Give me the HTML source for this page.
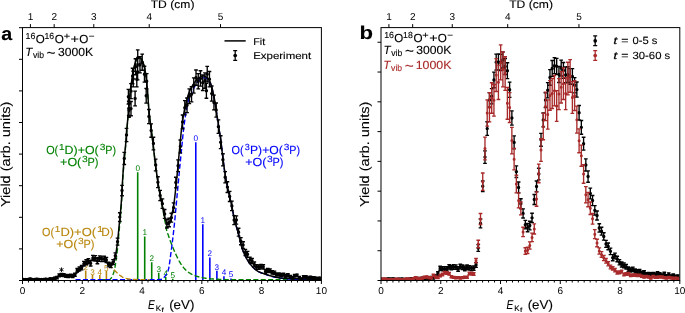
<!DOCTYPE html>
<html><head><meta charset="utf-8"><style>html,body{margin:0;padding:0;background:#fff;overflow:hidden}svg{display:block;will-change:transform;text-rendering:geometricPrecision}</style></head>
<body><svg width="685" height="313" viewBox="0 0 685 313">
<rect width="685" height="313" fill="#fff"/>
<g transform="translate(1.22 39.7) scale(1.06 1)" fill="#000" stroke="#000" stroke-width="0.12" ><text x="0" y="0" font-size="18.6" font-weight="bold" font-family="Liberation Sans, sans-serif" xml:space="preserve">a</text></g>
<g transform="translate(359.53 39.3) scale(1.19 1)" fill="#000" stroke="#000" stroke-width="0.12" ><text x="0" y="0" font-size="18.6" font-weight="bold" font-family="Liberation Sans, sans-serif" xml:space="preserve">b</text></g>
<g transform="translate(150.73 8.3) scale(1.1 1)" fill="#000" stroke="#000" stroke-width="0.12" ><text x="0" y="0" font-size="11" font-family="Liberation Sans, sans-serif" xml:space="preserve">TD (cm)</text></g>
<g transform="translate(10.1 0) rotate(-90)"><g transform="translate(-207.12 0) scale(1.12 1)" fill="#000" stroke="#000" stroke-width="0.12" ><text x="0" y="0" font-size="13" font-family="Liberation Sans, sans-serif" xml:space="preserve">Yield (arb. units)</text></g></g>
<g transform="translate(148.09 309.4) scale(0.8 1)" fill="#000" stroke="#000" stroke-width="0.12" ><text x="0" y="0" font-size="12.6" font-style="italic" font-family="Liberation Sans, sans-serif" xml:space="preserve">E</text></g>
<g transform="translate(155.74 310.6) scale(1.01 1)" fill="#000" stroke="#000" stroke-width="0.12" ><text x="0" y="0" font-size="7.9" font-family="Liberation Sans, sans-serif" xml:space="preserve">K</text></g>
<g transform="translate(161.48 312.2) scale(1.38 1)" fill="#000" stroke="#000" stroke-width="0.12" ><text x="0" y="0" font-size="6" font-family="Liberation Sans, sans-serif" xml:space="preserve">f</text></g>
<g transform="translate(169.17 309.4) scale(1.06 1)" fill="#000" stroke="#000" stroke-width="0.12" ><text x="0" y="0" font-size="12.6" font-family="Liberation Sans, sans-serif" xml:space="preserve">(eV)</text></g>
<g transform="translate(509.23 8.3) scale(1.1 1)" fill="#000" stroke="#000" stroke-width="0.12" ><text x="0" y="0" font-size="11" font-family="Liberation Sans, sans-serif" xml:space="preserve">TD (cm)</text></g>
<g transform="translate(368.6 0) rotate(-90)"><g transform="translate(-207.12 0) scale(1.12 1)" fill="#000" stroke="#000" stroke-width="0.12" ><text x="0" y="0" font-size="13" font-family="Liberation Sans, sans-serif" xml:space="preserve">Yield (arb. units)</text></g></g>
<g transform="translate(506.59 309.4) scale(0.8 1)" fill="#000" stroke="#000" stroke-width="0.12" ><text x="0" y="0" font-size="12.6" font-style="italic" font-family="Liberation Sans, sans-serif" xml:space="preserve">E</text></g>
<g transform="translate(514.24 310.6) scale(1.01 1)" fill="#000" stroke="#000" stroke-width="0.12" ><text x="0" y="0" font-size="7.9" font-family="Liberation Sans, sans-serif" xml:space="preserve">K</text></g>
<g transform="translate(519.98 312.2) scale(1.38 1)" fill="#000" stroke="#000" stroke-width="0.12" ><text x="0" y="0" font-size="6" font-family="Liberation Sans, sans-serif" xml:space="preserve">f</text></g>
<g transform="translate(527.67 309.4) scale(1.06 1)" fill="#000" stroke="#000" stroke-width="0.12" ><text x="0" y="0" font-size="12.6" font-family="Liberation Sans, sans-serif" xml:space="preserve">(eV)</text></g>
<g transform="translate(25.53 38.8) scale(1 1)" fill="#000" stroke="#000" stroke-width="0.12" ><text x="0" y="0" font-size="8.8" font-family="Liberation Sans, sans-serif" xml:space="preserve">16</text></g>
<g transform="translate(35.7 43.1) scale(0.98 1)" fill="#000" stroke="#000" stroke-width="0.12" ><text x="0" y="0" font-size="11.8" font-family="Liberation Sans, sans-serif" xml:space="preserve">O</text></g>
<g transform="translate(44.44 38.8) scale(0.99 1)" fill="#000" stroke="#000" stroke-width="0.12" ><text x="0" y="0" font-size="8.8" font-family="Liberation Sans, sans-serif" xml:space="preserve">16</text></g>
<g transform="translate(54.85 43.1) scale(0.99 1)" fill="#000" stroke="#000" stroke-width="0.12" ><text x="0" y="0" font-size="11.8" font-family="Liberation Sans, sans-serif" xml:space="preserve">O</text></g>
<g transform="translate(63.72 38.8) scale(1.24 1)" fill="#000" stroke="#000" stroke-width="0.12" ><text x="0" y="0" font-size="8.8" font-family="Liberation Sans, sans-serif" xml:space="preserve">+</text></g>
<g transform="translate(70.6 43.1) scale(1.22 1)" fill="#000" stroke="#000" stroke-width="0.12" ><text x="0" y="0" font-size="11.8" font-family="Liberation Sans, sans-serif" xml:space="preserve">+</text></g>
<g transform="translate(79.24 43.1) scale(0.99 1)" fill="#000" stroke="#000" stroke-width="0.12" ><text x="0" y="0" font-size="11.8" font-family="Liberation Sans, sans-serif" xml:space="preserve">O</text></g>
<g transform="translate(88.76 38.8) scale(1.12 1)" fill="#000" stroke="#000" stroke-width="0.12" ><text x="0" y="0" font-size="8.8" font-family="Liberation Sans, sans-serif" xml:space="preserve">−</text></g>
<g transform="translate(384.13 38) scale(1 1)" fill="#000" stroke="#000" stroke-width="0.12" ><text x="0" y="0" font-size="8.8" font-family="Liberation Sans, sans-serif" xml:space="preserve">16</text></g>
<g transform="translate(394.3 42.3) scale(0.98 1)" fill="#000" stroke="#000" stroke-width="0.12" ><text x="0" y="0" font-size="11.8" font-family="Liberation Sans, sans-serif" xml:space="preserve">O</text></g>
<g transform="translate(403.04 38) scale(0.99 1)" fill="#000" stroke="#000" stroke-width="0.12" ><text x="0" y="0" font-size="8.8" font-family="Liberation Sans, sans-serif" xml:space="preserve">18</text></g>
<g transform="translate(413.45 42.3) scale(0.99 1)" fill="#000" stroke="#000" stroke-width="0.12" ><text x="0" y="0" font-size="11.8" font-family="Liberation Sans, sans-serif" xml:space="preserve">O</text></g>
<g transform="translate(422.32 38) scale(1.24 1)" fill="#000" stroke="#000" stroke-width="0.12" ><text x="0" y="0" font-size="8.8" font-family="Liberation Sans, sans-serif" xml:space="preserve">+</text></g>
<g transform="translate(429.2 42.3) scale(1.22 1)" fill="#000" stroke="#000" stroke-width="0.12" ><text x="0" y="0" font-size="11.8" font-family="Liberation Sans, sans-serif" xml:space="preserve">+</text></g>
<g transform="translate(437.84 42.3) scale(0.99 1)" fill="#000" stroke="#000" stroke-width="0.12" ><text x="0" y="0" font-size="11.8" font-family="Liberation Sans, sans-serif" xml:space="preserve">O</text></g>
<g transform="translate(447.36 38) scale(1.12 1)" fill="#000" stroke="#000" stroke-width="0.12" ><text x="0" y="0" font-size="8.8" font-family="Liberation Sans, sans-serif" xml:space="preserve">−</text></g>
<g transform="translate(25.16 55.9) scale(0.98 1)" fill="#000" stroke="#000" stroke-width="0.12" ><text x="0" y="0" font-size="11.8" font-style="italic" font-family="Liberation Sans, sans-serif" xml:space="preserve">T</text></g>
<g transform="translate(32.97 57.9) scale(0.98 1)" fill="#000" stroke="#000" stroke-width="0.12" ><text x="0" y="0" font-size="8.8" font-family="Liberation Sans, sans-serif" xml:space="preserve">vib</text></g>
<g transform="translate(46.61 57.6) scale(0.99 1)" fill="#000" stroke="#000" stroke-width="0.12" ><text x="0" y="0" font-size="15.5" font-family="Liberation Sans, sans-serif" xml:space="preserve">~</text></g>
<g transform="translate(58.04 55.9) scale(1.03 1)" fill="#000" stroke="#000" stroke-width="0.12" ><text x="0" y="0" font-size="11.8" font-family="Liberation Sans, sans-serif" xml:space="preserve">3000K</text></g>
<g transform="translate(383.46 53.9) scale(0.98 1)" fill="#000" stroke="#000" stroke-width="0.12" ><text x="0" y="0" font-size="11.8" font-style="italic" font-family="Liberation Sans, sans-serif" xml:space="preserve">T</text></g>
<g transform="translate(391.27 55.9) scale(0.98 1)" fill="#000" stroke="#000" stroke-width="0.12" ><text x="0" y="0" font-size="8.8" font-family="Liberation Sans, sans-serif" xml:space="preserve">vib</text></g>
<g transform="translate(404.91 55.7) scale(0.99 1)" fill="#000" stroke="#000" stroke-width="0.12" ><text x="0" y="0" font-size="15.5" font-family="Liberation Sans, sans-serif" xml:space="preserve">~</text></g>
<g transform="translate(416.34 53.9) scale(1.03 1)" fill="#000" stroke="#000" stroke-width="0.12" ><text x="0" y="0" font-size="11.8" font-family="Liberation Sans, sans-serif" xml:space="preserve">3000K</text></g>
<g transform="translate(383.26 69) scale(0.98 1)" fill="#a82a2a" stroke="#a82a2a" stroke-width="0.12" ><text x="0" y="0" font-size="11.8" font-style="italic" font-family="Liberation Sans, sans-serif" xml:space="preserve">T</text></g>
<g transform="translate(391.07 71) scale(0.98 1)" fill="#a82a2a" stroke="#a82a2a" stroke-width="0.12" ><text x="0" y="0" font-size="8.8" font-family="Liberation Sans, sans-serif" xml:space="preserve">vib</text></g>
<g transform="translate(404.71 70.6) scale(0.99 1)" fill="#a82a2a" stroke="#a82a2a" stroke-width="0.12" ><text x="0" y="0" font-size="15.5" font-family="Liberation Sans, sans-serif" xml:space="preserve">~</text></g>
<g transform="translate(415.66 69) scale(1.05 1)" fill="#a82a2a" stroke="#a82a2a" stroke-width="0.12" ><text x="0" y="0" font-size="11.8" font-family="Liberation Sans, sans-serif" xml:space="preserve">1000K</text></g>
<path d="M224.5 40.9H245.7" stroke="#000" stroke-width="1.5"/>
<g transform="translate(253.22 44.5) scale(1.1 1)" fill="#000" stroke="#000" stroke-width="0.12" ><text x="0" y="0" font-size="9.8" font-family="Liberation Sans, sans-serif" xml:space="preserve">Fit</text></g>
<g transform="translate(253.16 59.2) scale(1.17 1)" fill="#000" stroke="#000" stroke-width="0.12" ><text x="0" y="0" font-size="9.8" font-family="Liberation Sans, sans-serif" xml:space="preserve">Experiment</text></g>
<path d="M235.2 50.6V60.4M233.2 50.6h4M233.2 60.4h4" stroke="#000" stroke-width="1.25"/><circle cx="235.2" cy="55.5" r="1.85" fill="#000"/>
<path d="M595.2 35.9V45.7M593.2 35.9h4M593.2 45.7h4" stroke="#000" stroke-width="1.25"/><circle cx="595.2" cy="40.8" r="1.85" fill="#000"/>
<path d="M595.2 50.6V60.4M593.2 50.6h4M593.2 60.4h4" stroke="#a82a2a" stroke-width="1.25"/><circle cx="595.2" cy="55.5" r="1.85" fill="#a82a2a"/>
<g transform="translate(613.22 43.6) scale(1.44 1)" fill="#000" stroke="#000" stroke-width="0.12" ><text x="0" y="0" font-size="10.4" font-style="italic" font-family="Liberation Sans, sans-serif" xml:space="preserve">t</text></g>
<g transform="translate(621.2 43.6) scale(1.19 1)" fill="#000" stroke="#000" stroke-width="0.12" ><text x="0" y="0" font-size="10.4" font-family="Liberation Sans, sans-serif" xml:space="preserve">=</text></g>
<g transform="translate(632.46 43.6) scale(1.08 1)" fill="#000" stroke="#000" stroke-width="0.12" ><text x="0" y="0" font-size="10.4" font-family="Liberation Sans, sans-serif" xml:space="preserve">0-5 s</text></g>
<g transform="translate(613.22 58.5) scale(1.44 1)" fill="#000" stroke="#000" stroke-width="0.12" ><text x="0" y="0" font-size="10.4" font-style="italic" font-family="Liberation Sans, sans-serif" xml:space="preserve">t</text></g>
<g transform="translate(621.2 58.5) scale(1.19 1)" fill="#000" stroke="#000" stroke-width="0.12" ><text x="0" y="0" font-size="10.4" font-family="Liberation Sans, sans-serif" xml:space="preserve">=</text></g>
<g transform="translate(632.47 58.5) scale(1.09 1)" fill="#000" stroke="#000" stroke-width="0.12" ><text x="0" y="0" font-size="10.4" font-family="Liberation Sans, sans-serif" xml:space="preserve">30-60 s</text></g>
<g transform="translate(46.18 154.2) scale(0.92 1)" fill="#008000" stroke="#008000" stroke-width="0.12" ><text x="0" y="0" font-size="11.8" font-family="Liberation Sans, sans-serif" xml:space="preserve">O(</text></g>
<g transform="translate(58.94 150) scale(1.13 1)" fill="#008000" stroke="#008000" stroke-width="0.12" ><text x="0" y="0" font-size="8.8" font-family="Liberation Sans, sans-serif" xml:space="preserve">1</text></g>
<g transform="translate(99.81 150) scale(1.15 1)" fill="#008000" stroke="#008000" stroke-width="0.12" ><text x="0" y="0" font-size="8.8" font-family="Liberation Sans, sans-serif" xml:space="preserve">3</text></g>
<g transform="translate(105.22 154.2) scale(0.91 1)" fill="#008000" stroke="#008000" stroke-width="0.12" ><text x="0" y="0" font-size="11.8" font-family="Liberation Sans, sans-serif" xml:space="preserve">P)</text></g>
<g transform="translate(64.58 154.2) scale(1.05 1)" fill="#008000" stroke="#008000" stroke-width="0.12" ><text x="0" y="0" font-size="11.8" font-family="Liberation Sans, sans-serif" xml:space="preserve">D)+O(</text></g>
<g transform="translate(60.09 166.1) scale(1.06 1)" fill="#008000" stroke="#008000" stroke-width="0.12" ><text x="0" y="0" font-size="11.8" font-family="Liberation Sans, sans-serif" xml:space="preserve">+O(</text></g>
<g transform="translate(81.91 161.9) scale(1.17 1)" fill="#008000" stroke="#008000" stroke-width="0.12" ><text x="0" y="0" font-size="8.8" font-family="Liberation Sans, sans-serif" xml:space="preserve">3</text></g>
<g transform="translate(87.4 166.1) scale(0.93 1)" fill="#008000" stroke="#008000" stroke-width="0.12" ><text x="0" y="0" font-size="11.8" font-family="Liberation Sans, sans-serif" xml:space="preserve">P)</text></g>
<g transform="translate(231.58 153.9) scale(0.92 1)" fill="#0000ff" stroke="#0000ff" stroke-width="0.12" ><text x="0" y="0" font-size="11.8" font-family="Liberation Sans, sans-serif" xml:space="preserve">O(</text></g>
<g transform="translate(244.75 149.7) scale(1.03 1)" fill="#0000ff" stroke="#0000ff" stroke-width="0.12" ><text x="0" y="0" font-size="8.8" font-family="Liberation Sans, sans-serif" xml:space="preserve">3</text></g>
<g transform="translate(283.81 149.7) scale(1.15 1)" fill="#0000ff" stroke="#0000ff" stroke-width="0.12" ><text x="0" y="0" font-size="8.8" font-family="Liberation Sans, sans-serif" xml:space="preserve">3</text></g>
<g transform="translate(289.22 153.9) scale(0.91 1)" fill="#0000ff" stroke="#0000ff" stroke-width="0.12" ><text x="0" y="0" font-size="11.8" font-family="Liberation Sans, sans-serif" xml:space="preserve">P)</text></g>
<g transform="translate(250.01 153.9) scale(1.03 1)" fill="#0000ff" stroke="#0000ff" stroke-width="0.12" ><text x="0" y="0" font-size="11.8" font-family="Liberation Sans, sans-serif" xml:space="preserve">P)+O(</text></g>
<g transform="translate(245.19 166) scale(1.06 1)" fill="#0000ff" stroke="#0000ff" stroke-width="0.12" ><text x="0" y="0" font-size="11.8" font-family="Liberation Sans, sans-serif" xml:space="preserve">+O(</text></g>
<g transform="translate(267.01 161.8) scale(1.17 1)" fill="#0000ff" stroke="#0000ff" stroke-width="0.12" ><text x="0" y="0" font-size="8.8" font-family="Liberation Sans, sans-serif" xml:space="preserve">3</text></g>
<g transform="translate(272.5 166) scale(0.93 1)" fill="#0000ff" stroke="#0000ff" stroke-width="0.12" ><text x="0" y="0" font-size="11.8" font-family="Liberation Sans, sans-serif" xml:space="preserve">P)</text></g>
<g transform="translate(42.08 235.9) scale(0.92 1)" fill="#b8860b" stroke="#b8860b" stroke-width="0.12" ><text x="0" y="0" font-size="11.8" font-family="Liberation Sans, sans-serif" xml:space="preserve">O(</text></g>
<g transform="translate(54.84 231.7) scale(1.13 1)" fill="#b8860b" stroke="#b8860b" stroke-width="0.12" ><text x="0" y="0" font-size="8.8" font-family="Liberation Sans, sans-serif" xml:space="preserve">1</text></g>
<g transform="translate(96.95 231.7) scale(1.27 1)" fill="#b8860b" stroke="#b8860b" stroke-width="0.12" ><text x="0" y="0" font-size="8.8" font-family="Liberation Sans, sans-serif" xml:space="preserve">1</text></g>
<g transform="translate(101.13 235.9) scale(1 1)" fill="#b8860b" stroke="#b8860b" stroke-width="0.12" ><text x="0" y="0" font-size="11.8" font-family="Liberation Sans, sans-serif" xml:space="preserve">D)</text></g>
<g transform="translate(60.43 235.9) scale(1.1 1)" fill="#b8860b" stroke="#b8860b" stroke-width="0.12" ><text x="0" y="0" font-size="11.8" font-family="Liberation Sans, sans-serif" xml:space="preserve">D)+O(</text></g>
<g transform="translate(56.19 248.1) scale(1.06 1)" fill="#b8860b" stroke="#b8860b" stroke-width="0.12" ><text x="0" y="0" font-size="11.8" font-family="Liberation Sans, sans-serif" xml:space="preserve">+O(</text></g>
<g transform="translate(78.01 243.9) scale(1.17 1)" fill="#b8860b" stroke="#b8860b" stroke-width="0.12" ><text x="0" y="0" font-size="8.8" font-family="Liberation Sans, sans-serif" xml:space="preserve">3</text></g>
<g transform="translate(83.5 248.1) scale(0.93 1)" fill="#b8860b" stroke="#b8860b" stroke-width="0.12" ><text x="0" y="0" font-size="11.8" font-family="Liberation Sans, sans-serif" xml:space="preserve">P)</text></g>
<path d="M61.5 267.4V272M59.5 268.5L63.5 270.9M59.5 270.9L63.5 268.5" stroke="#000" stroke-width="0.9"/>
<clipPath id="ca"><rect x="22.5" y="27.6" width="298.9" height="252.9"/></clipPath><clipPath id="cb"><rect x="381" y="27.6" width="298.8" height="252.9"/></clipPath>
<g clip-path="url(#ca)">
<path d="M137.7 280.5V172.3M144.71 280.5V236.38M151.71 280.5V262.33M158.72 280.5V272.85M165.73 280.5V277.1M172.74 280.5V278.83" stroke="#008000" stroke-width="1.6"/>
<path d="M195.77 280.5V142.3M202.81 280.5V224.23M209.85 280.5V257.41M216.89 280.5V270.85M223.93 280.5V276.3M230.97 280.5V278.5" stroke="#0000ff" stroke-width="1.6"/>
<path d="M85.7 280.5V270.5M92.5 280.5V275M99.8 280.5V275M106.4 280.5V271" stroke="#b8860b" stroke-width="1.6"/>
<text x="137.7" y="171.2" font-size="8.2" text-anchor="middle" fill="#008000" font-family="Liberation Sans, sans-serif">0</text>
<text x="144.71" y="235.28" font-size="8.2" text-anchor="middle" fill="#008000" font-family="Liberation Sans, sans-serif">1</text>
<text x="151.71" y="261.23" font-size="8.2" text-anchor="middle" fill="#008000" font-family="Liberation Sans, sans-serif">2</text>
<text x="158.72" y="271.75" font-size="8.2" text-anchor="middle" fill="#008000" font-family="Liberation Sans, sans-serif">3</text>
<text x="165.73" y="276" font-size="8.2" text-anchor="middle" fill="#008000" font-family="Liberation Sans, sans-serif">4</text>
<text x="172.74" y="277.73" font-size="8.2" text-anchor="middle" fill="#008000" font-family="Liberation Sans, sans-serif">5</text>
<text x="195.77" y="141.2" font-size="8.2" text-anchor="middle" fill="#0000ff" font-family="Liberation Sans, sans-serif">0</text>
<text x="202.81" y="223.13" font-size="8.2" text-anchor="middle" fill="#0000ff" font-family="Liberation Sans, sans-serif">1</text>
<text x="209.85" y="256.31" font-size="8.2" text-anchor="middle" fill="#0000ff" font-family="Liberation Sans, sans-serif">2</text>
<text x="216.89" y="269.75" font-size="8.2" text-anchor="middle" fill="#0000ff" font-family="Liberation Sans, sans-serif">3</text>
<text x="223.93" y="275.2" font-size="8.2" text-anchor="middle" fill="#0000ff" font-family="Liberation Sans, sans-serif">4</text>
<text x="230.97" y="277.4" font-size="8.2" text-anchor="middle" fill="#0000ff" font-family="Liberation Sans, sans-serif">5</text>
<text x="85.7" y="270.2" font-size="8.2" text-anchor="middle" fill="#b8860b" font-family="Liberation Sans, sans-serif">2</text>
<text x="92.5" y="274.7" font-size="8.2" text-anchor="middle" fill="#b8860b" font-family="Liberation Sans, sans-serif">3</text>
<text x="99.8" y="274.7" font-size="8.2" text-anchor="middle" fill="#b8860b" font-family="Liberation Sans, sans-serif">4</text>
<text x="106.4" y="270.7" font-size="8.2" text-anchor="middle" fill="#b8860b" font-family="Liberation Sans, sans-serif">5</text>
<path d="M100.5 279.75 101 279.75 101.5 279.75 102 279.75 102.5 279.75 103 279.75 103.5 279.75 104 279.75 104.5 279.75 105 279.75 105.5 279.75 106 279.75 106.5 279.75 107 279.75 107.5 279.75 108 279.75 108.5 279.75 109 279.75 109.5 279.72 110 279.29 110.5 278.8 111 278.25 111.5 277.58 112 276.71 112.5 275.68 113 274.57 113.5 273.27 114 271.64 114.5 269.73 115 267.19 115.5 264 116 260.62 116.5 256.99 117 253 117.5 248.58 118 243.41 118.5 237.74 119 232.12 119.5 226.88 120 221.69 120.5 216.12 121 209.87 121.5 202.86 122 194.5 122.5 184.18 123 175.91 123.5 169.01 124 162.85 124.5 157.45 125 152.58 125.5 147.48 126 141.46 126.5 134.9 127 128.7 127.5 122.83 128 117.12 128.5 111.42 129 105.54 129.5 99.75 130 94.36 130.5 89.68 131 85.84 131.5 82.52 132 79.5 132.5 76.59 133 73.6 133.5 70.62 134 67.87 134.5 65.6 135 63.69 135.5 61.98 136 60.6 136.5 59.65 137 58.91 137.5 58.3 138 57.91 138.5 57.83 139 57.87 139.5 57.95 140 58.09 140.5 58.26 141 58.68 141.5 59.47 142 60.46 142.5 61.52 143 62.61 143.5 63.84 144 65.3 144.5 67.08 145 69.48 145.5 73.05 146 77 146.5 80.85 147 85.08 147.5 90.3 148 97.43 148.5 104.96 149 111.04 149.5 115.79 150 119.98 150.5 123.87 151 127.71 151.5 131.72 152 135.71 152.5 139.67 153 143.74 153.5 147.99 154 152.34 154.5 156.67 155 160.84 155.5 164.79 156 168.62 156.5 172.35 157 175.95 157.5 179.41 158 182.76 158.5 185.98 159 189.02 159.5 191.77 160 194.28 160.5 196.79 161 199.42 161.5 202.09 162 204.78 162.5 207.57 163 210.4 163.5 213.2 164 216.01 164.5 218.91 165 221.7 165.5 224.19 166 226.25 166.5 229.82 167 231.37 167.5 232.89 168 234.38 168.5 235.85 169 237.29 169.5 238.7 170 240.09 170.5 241.45 171 242.78 171.5 244.09 172 245.37 172.5 246.62 173 247.84 173.5 249.04 174 250.21 174.5 251.36 175 252.48 175.5 253.58 176 254.66 176.5 255.73 177 256.8 177.5 257.84 178 258.85 178.5 259.83 179 260.76 179.5 261.64 180 262.47 180.5 263.28 181 264.06 181.5 264.83 182 265.56 182.5 266.26 183 266.93 183.5 267.56 184 268.15 184.5 268.69 185 269.21 185.5 269.71 186 270.19 186.5 270.65 187 271.09 187.5 271.51 188 271.91 188.5 272.28 189 272.64 189.5 272.97 190 273.27 190.5 273.56 191 273.83 191.5 274.1 192 274.36 192.5 274.6 193 274.84 193.5 275.06 194 275.28 194.5 275.49 195 275.68 195.5 275.87 196 276.04 196.5 276.21 197 276.36 197.5 276.51 198 276.65 198.5 276.79 199 276.93 199.5 277.06 200 277.18 200.5 277.3 201 277.42 201.5 277.53 202 277.63 202.5 277.73 203 277.83 203.5 277.92 204 278 204.5 278.08 205 278.15 205.5 278.22 206 278.29 206.5 278.36 207 278.42 207.5 278.48 208 278.54 208.5 278.6 209 278.66 209.5 278.71 210 278.76 210.5 278.81 211 278.86 211.5 278.91 212 278.95 212.5 278.99 213 279.03 213.5 279.06 214 279.09 214.5 279.12 215 279.15 215.5 279.18 216 279.2 216.5 279.23 217 279.25 217.5 279.28 218 279.3 218.5 279.32 219 279.35 219.5 279.37 220 279.39 220.5 279.41 221 279.43 221.5 279.45 222 279.47 222.5 279.49 223 279.5 223.5 279.52 224 279.53 224.5 279.55 225 279.56 225.5 279.58 226 279.59 226.5 279.6 227 279.61 227.5 279.62 228 279.63 228.5 279.64 229 279.64 229.5 279.65 230 279.65 230.5 279.65 231 279.66 231.5 279.66 232 279.66 232.5 279.67 233 279.67 233.5 279.67 234 279.68 234.5 279.68 235 279.68 235.5 279.68 236 279.69 236.5 279.69 237 279.69 237.5 279.69 238 279.7 238.5 279.7 239 279.7 239.5 279.7 240 279.71 240.5 279.71 241 279.71 241.5 279.71 242 279.71 242.5 279.72 243 279.72 243.5 279.72 244 279.72 244.5 279.72 245 279.73 245.5 279.73 246 279.73 246.5 279.73 247 279.73 247.5 279.73 248 279.73 248.5 279.74 249 279.74 249.5 279.74 250 279.74 250.5 279.74 251 279.74 251.5 279.74 252 279.74 252.5 279.74 253 279.74 253.5 279.75 254 279.75 254.5 279.75 255 279.75 255.5 279.75 256 279.75 256.5 279.75 257 279.75 257.5 279.75 258 279.75 258.5 279.75 259 279.75 259.5 279.75 260 279.75 260.5 279.75 261 279.75 261.5 279.75 262 279.75 262.5 279.75 263 279.75 263.5 279.75 264 279.75 264.5 279.75 265 279.75 265.5 279.75 266 279.75 266.5 279.75 267 279.75 267.5 279.75 268 279.75 268.5 279.75 269 279.75 269.5 279.75 270 279.75 270.5 279.75 271 279.75 271.5 279.75 272 279.75 272.5 279.75 273 279.75 273.5 279.75 274 279.75 274.5 279.75 275 279.75 275.5 279.75 276 279.75 276.5 279.75 277 279.75 277.5 279.75 278 279.75 278.5 279.75 279 279.75 279.5 279.75 280 279.75 280.5 279.75 281 279.75 281.5 279.75 282 279.75 282.5 279.75 283 279.75 283.5 279.75 284 279.75 284.5 279.75 285 279.75 285.5 279.75 286 279.75 286.5 279.75 287 279.75 287.5 279.75 288 279.75 288.5 279.75 289 279.75 289.5 279.75 290 279.75 290.5 279.75 291 279.75 291.5 279.75 292 279.75 292.5 279.75 293 279.75 293.5 279.75 294 279.75 294.5 279.75 295 279.75 295.5 279.75 296 279.75 296.5 279.75 297 279.75 297.5 279.75 298 279.75 298.5 279.75 299 279.75 299.5 279.75 300 279.75 300.5 279.75 301 279.75 301.5 279.75 302 279.75 302.5 279.75 303 279.75 303.5 279.75 304 279.75 304.5 279.75 305 279.75 305.5 279.75 306 279.75 306.5 279.75 307 279.75 307.5 279.75 308 279.75 308.5 279.75 309 279.75 309.5 279.75 310 279.75 310.5 279.75 311 279.75 311.5 279.75 312 279.75 312.5 279.75 313 279.75 313.5 279.75 314 279.75 314.5 279.75 315 279.75 315.5 279.75 316 279.75 316.5 279.75 317 279.75 317.5 279.75 318 279.75 318.5 279.75 319 279.75 319.5 279.75 320 279.75 320.5 279.75 321 279.75" fill="none" stroke="#008000" stroke-width="1.4" stroke-dasharray="5.1 2.3"/>
<path d="M75.5 279.75 76 279.75 76.5 279.75 77 279.75 77.5 279.75 78 279.75 78.5 279.75 79 279.75 79.5 279.75 80 279.75 80.5 279.75 81 279.75 81.5 279.75 82 279.75 82.5 279.75 83 279.75 83.5 279.75 84 279.75 84.5 279.75 85 279.75 85.5 279.75 86 279.75 86.5 279.75 87 279.75 87.5 279.75 88 279.75 88.5 279.75 89 279.75 89.5 279.75 90 279.75 90.5 279.75 91 279.75 91.5 279.75 92 279.75 92.5 279.75 93 279.75 93.5 279.75 94 279.75 94.5 279.75 95 279.75 95.5 279.75 96 279.75 96.5 279.75 97 279.75 97.5 279.75 98 279.75 98.5 279.75 99 279.75 99.5 279.75 100 279.75 100.5 279.75 101 279.75 101.5 279.75 102 279.75 102.5 279.75 103 279.75 103.5 279.75 104 279.75 104.5 279.75 105 279.75 105.5 279.75 106 279.75 106.5 279.75 107 279.75 107.5 279.75 108 279.75 108.5 279.75 109 279.75 109.5 279.75 110 279.75 110.5 279.75 111 279.75 111.5 279.75 112 279.75 112.5 279.75 113 279.75 113.5 279.75 114 279.75 114.5 279.75 115 279.75 115.5 279.75 116 279.75 116.5 279.75 117 279.75 117.5 279.75 118 279.75 118.5 279.75 119 279.75 119.5 279.75 120 279.75 120.5 279.75 121 279.75 121.5 279.75 122 279.75 122.5 279.75 123 279.75 123.5 279.75 124 279.75 124.5 279.75 125 279.75 125.5 279.75 126 279.75 126.5 279.75 127 279.75 127.5 279.75 128 279.75 128.5 279.75 129 279.75 129.5 279.75 130 279.75 130.5 279.75 131 279.75 131.5 279.75 132 279.75 132.5 279.75 133 279.75 133.5 279.75 134 279.75 134.5 279.75 135 279.75 135.5 279.75 136 279.75 136.5 279.75 137 279.75 137.5 279.75 138 279.75 138.5 279.75 139 279.75 139.5 279.75 140 279.75 140.5 279.75 141 279.75 141.5 279.75 142 279.75 142.5 279.75 143 279.75 143.5 279.75 144 279.75 144.5 279.75 145 279.75 145.5 279.75 146 279.75 146.5 279.75 147 279.75 147.5 279.75 148 279.75 148.5 279.75 149 279.75 149.5 279.75 150 279.75 150.5 279.75 151 279.75 151.5 279.75 152 279.74 152.5 279.74 153 279.74 153.5 279.73 154 279.72 154.5 279.72 155 279.71 155.5 279.7 156 279.69 156.5 279.68 157 279.67 157.5 279.66 158 279.65 158.5 279.63 159 279.61 159.5 279.57 160 279.52 160.5 279.46 161 279.39 161.5 279.31 162 279.2 162.5 278.95 163 278.56 163.5 278.07 164 277.5 164.5 276.89 165 276.26 165.5 275.63 166 274.93 166.5 274.15 167 273.25 167.5 272.19 168 270.94 168.5 269.31 169 266.78 169.5 263.54 170 259.88 170.5 256.08 171 252.42 171.5 248.74 172 244.9 172.5 240.89 173 236.73 173.5 232.4 174 227.91 174.5 223.15 175 218.08 175.5 212.79 176 207.35 176.5 201.87 177 196.4 177.5 191.05 178 185.82 178.5 180.6 179 175.39 179.5 170.19 180 165.02 180.5 159.87 181 154.77 181.5 149.71 182 144.61 182.5 139.43 183 134.47 183.5 130 184 125.96 184.5 122.11 185 118.48 185.5 115.1 186 111.99 186.5 109.2 187 106.63 187.5 104.21 188 101.96 188.5 99.91 189 98.08 189.5 98.23 190 96.79 190.5 95.44 191 94.17 191.5 92.96 192 91.82 192.5 90.74 193 89.7 193.5 88.72 194 87.77 194.5 86.85 195 85.95 195.5 85.07 196 84.24 196.5 83.47 197 82.76 197.5 82.14 198 81.61 198.5 81.13 199 80.66 199.5 80.21 200 79.78 200.5 79.37 201 79 201.5 78.67 202 78.38 202.5 78.14 203 77.96 203.5 77.84 204 77.79 204.5 77.83 205 77.94 205.5 78.11 206 78.32 206.5 78.57 207 78.83 207.5 79.18 208 79.69 208.5 80.32 209 81.08 209.5 81.94 210 82.9 210.5 83.94 211 85.18 211.5 86.72 212 88.52 212.5 90.54 213 92.73 213.5 95.05 214 97.47 214.5 99.97 215 102.84 215.5 106.01 216 109.26 216.5 112.46 217 115.74 217.5 119.07 218 122.42 218.5 125.76 219 129.03 219.5 132.21 220 135.42 220.5 138.76 221 142.32 221.5 146.32 222 150.65 222.5 154.99 223 159.03 223.5 162.89 224 166.68 224.5 170.31 225 173.69 225.5 176.76 226 179.56 226.5 182.16 227 184.62 227.5 186.99 228 189.31 228.5 191.64 229 193.97 229.5 196.22 230 198.42 230.5 200.58 231 202.74 231.5 204.94 232 207.21 232.5 209.57 233 212.13 233.5 214.92 234 217.62 234.5 219.93 235 221.86 235.5 223.59 236 225.26 236.5 226.98 237 228.75 237.5 230.5 238 232.27 238.5 234.07 239 235.94 239.5 237.95 240 240.12 240.5 242.32 241 244.44 241.5 246.37 242 247.98 242.5 249.41 243 250.75 243.5 252 244 253.18 244.5 254.33 245 255.42 245.5 256.48 246 257.47 246.5 258.37 247 259.24 247.5 260.09 248 260.91 248.5 261.7 249 262.45 249.5 263.16 250 263.83 250.5 264.46 251 265.04 251.5 265.62 252 266.17 252.5 266.72 253 267.25 253.5 267.76 254 268.25 254.5 268.73 255 269.18 255.5 269.61 256 270.02 256.5 270.4 257 270.75 257.5 271.08 258 271.38 258.5 271.65 259 271.9 259.5 272.15 260 272.37 260.5 272.59 261 272.79 261.5 272.99 262 273.18 262.5 273.36 263 273.54 263.5 273.71 264 273.88 264.5 274.06 265 274.23 265.5 274.4 266 274.58 266.5 274.75 267 274.92 267.5 275.09 268 275.25 268.5 275.42 269 275.58 269.5 275.73 270 275.89 270.5 276.04 271 276.18 271.5 276.32 272 276.46 272.5 276.58 273 276.71 273.5 276.83 274 276.96 274.5 277.08 275 277.2 275.5 277.31 276 277.43 276.5 277.54 277 277.64 277.5 277.74 278 277.84 278.5 277.93 279 278.01 279.5 278.08 280 278.14 280.5 278.2 281 278.26 281.5 278.31 282 278.36 282.5 278.42 283 278.47 283.5 278.52 284 278.56 284.5 278.61 285 278.66 285.5 278.7 286 278.74 286.5 278.78 287 278.82 287.5 278.86 288 278.9 288.5 278.93 289 278.97 289.5 279 290 279.03 290.5 279.06 291 279.09 291.5 279.11 292 279.14 292.5 279.16 293 279.18 293.5 279.21 294 279.22 294.5 279.24 295 279.26 295.5 279.27 296 279.29 296.5 279.3 297 279.32 297.5 279.34 298 279.35 298.5 279.36 299 279.38 299.5 279.39 300 279.41 300.5 279.42 301 279.44 301.5 279.45 302 279.46 302.5 279.48 303 279.49 303.5 279.5 304 279.51 304.5 279.53 305 279.54 305.5 279.55 306 279.56 306.5 279.57 307 279.58 307.5 279.59 308 279.6 308.5 279.61 309 279.62 309.5 279.63 310 279.64 310.5 279.65 311 279.66 311.5 279.67 312 279.68 312.5 279.68 313 279.69 313.5 279.7 314 279.7 314.5 279.71 315 279.71 315.5 279.72 316 279.72 316.5 279.73 317 279.73 317.5 279.74 318 279.74 318.5 279.74 319 279.74 319.5 279.75 320 279.75 320.5 279.75 321 279.75" fill="none" stroke="#0000ff" stroke-width="1.4" stroke-dasharray="5.1 2.3"/>
<path d="M96.5 258.54 97 258.43 97.5 258.33 98 258.25 98.5 258.18 99 258.11 99.5 258.06 100 258.02 100.5 258.02 101 258.09 101.5 258.21 102 258.38 102.5 258.58 103 258.82 103.5 259.06 104 259.31 104.5 259.6 105 259.95 105.5 260.35 106 260.8 106.5 261.28 107 261.78 107.5 262.29 108 262.8 108.5 263.34 109 263.93 109.5 264.55 110 265.2 110.5 265.85 111 266.49 111.5 267.11 112 267.69 112.5 268.24 113 268.78 113.5 269.31 114 269.82 114.5 270.33 115 270.83 115.5 271.31 116 271.79 116.5 272.26 117 272.73 117.5 273.2 118 273.66 118.5 274.11 119 274.55 119.5 274.96 120 275.36 120.5 275.72 121 276.07 121.5 276.41 122 276.75 122.5 277.07 123 277.38 123.5 277.66 124 277.9 124.5 278.11 125 278.25 125.5 278.37 126 278.48 126.5 278.59 127 278.68 127.5 278.77 128 278.86 128.5 278.94 129 279.01 129.5 279.07 130 279.13 130.5 279.19 131 279.24 131.5 279.28 132 279.31 132.5 279.35 133 279.37 133.5 279.4 134 279.43 134.5 279.45 135 279.48 135.5 279.5 136 279.52 136.5 279.55 137 279.57 137.5 279.59 138 279.61 138.5 279.63 139 279.64 139.5 279.66 140 279.67 140.5 279.69 141 279.7 141.5 279.71 142 279.72 142.5 279.73 143 279.74 143.5 279.74 144 279.75 144.5 279.75 145 279.75 145.5 279.75 146 279.75 146.5 279.75 147 279.75 147.5 279.75 148 279.75 148.5 279.75 149 279.75 149.5 279.75" fill="none" stroke="#b8860b" stroke-width="1.4" stroke-dasharray="5.1 2.3"/>
<path d="M22.5 279.6 23 279.6 23.5 279.6 24 279.6 24.5 279.59 25 279.59 25.5 279.59 26 279.59 26.5 279.58 27 279.58 27.5 279.58 28 279.57 28.5 279.57 29 279.56 29.5 279.56 30 279.55 30.5 279.55 31 279.54 31.5 279.54 32 279.53 32.5 279.53 33 279.52 33.5 279.52 34 279.51 34.5 279.51 35 279.5 35.5 279.49 36 279.49 36.5 279.48 37 279.47 37.5 279.47 38 279.46 38.5 279.45 39 279.44 39.5 279.43 40 279.42 40.5 279.41 41 279.4 41.5 279.39 42 279.38 42.5 279.36 43 279.35 43.5 279.34 44 279.33 44.5 279.31 45 279.3 45.5 279.29 46 279.27 46.5 279.26 47 279.24 47.5 279.23 48 279.21 48.5 279.19 49 279.17 49.5 279.15 50 279.13 50.5 279.1 51 279.07 51.5 279.04 52 279 52.5 278.95 53 278.88 53.5 278.79 54 278.68 54.5 278.55 55 278.4 55.5 278.19 56 277.91 56.5 277.57 57 277.2 57.5 276.74 58 276.22 58.5 275.8 59 275.48 59.5 275.21 60 275.1 60.5 275.11 61 275.13 61.5 275.16 62 275.2 62.5 275.28 63 275.43 63.5 275.58 64 275.7 64.5 275.79 65 275.88 65.5 275.97 66 276.04 66.5 276.08 67 276.1 67.5 276.1 68 276.08 68.5 276.06 69 276.03 69.5 276 70 275.92 70.5 275.78 71 275.6 71.5 275.4 72 275.2 72.5 275 73 274.78 73.5 274.55 74 274.3 74.5 274.05 75 273.8 75.5 273.56 76 273.32 76.5 273.08 77 272.82 77.5 272.53 78 272.2 78.5 271.8 79 271.31 79.5 270.77 80 270.2 80.5 269.57 81 268.88 81.5 268.15 82 267.4 82.5 266.6 83 265.75 83.5 264.93 84 264.2 84.5 263.55 85 262.95 85.5 262.41 86 262 86.5 261.68 87 261.42 87.5 261.19 88 261 88.5 260.84 89 260.7 89.5 260.58 90 260.46 90.5 260.34 91 260.2 91.5 260.05 92 259.9 92.5 259.74 93 259.58 93.5 259.41 94 259.24 94.5 259.07 95 258.9 95.5 258.7 96 258.47 96.5 258.22 97 257.98 97.5 257.79 98 257.65 98.5 257.6 99 257.6 99.5 257.6 100 257.6 100.5 257.6 101 257.6 101.5 257.69 102 257.93 102.5 258.26 103 258.6 103.5 259 104 259.49 104.5 260.04 105 260.6 105.5 261.2 106 261.84 106.5 262.47 107 263 107.5 263.45 108 263.87 108.5 264.23 109 264.5 109.5 264.73 110 264.94 110.5 265.1 111 265.19 111.5 265.14 112 264.85 112.5 264.37 113 263.8 113.5 263.03 114 261.91 114.5 260.5 115 258.45 115.5 255.74 116 252.82 116.5 249.65 117 246.12 117.5 242.16 118 237.43 118.5 232.2 119 227 119.5 222.16 120 217.35 120.5 212.13 121 206.21 121.5 199.51 122 191.49 122.5 181.49 123 173.53 123.5 166.92 124 161 124.5 155.8 125 151.08 125.5 146.09 126 140.19 126.5 133.73 127 127.63 127.5 121.85 128 116.22 128.5 110.61 129 104.8 129.5 99.07 130 93.74 130.5 89.11 131 85.33 131.5 82.05 132 79.06 132.5 76.18 133 73.22 133.5 70.27 134 67.55 134.5 65.3 135 63.42 135.5 61.73 136 60.37 136.5 59.45 137 58.73 137.5 58.13 138 57.77 138.5 57.7 139 57.76 139.5 57.86 140 58.01 140.5 58.2 141 58.63 141.5 59.43 142 60.43 142.5 61.5 143 62.59 143.5 63.83 144 65.3 144.5 67.08 145 69.48 145.5 73.05 146 77 146.5 80.85 147 85.08 147.5 90.3 148 97.43 148.5 104.96 149 111.04 149.5 115.79 150 119.98 150.5 123.86 151 127.71 151.5 131.72 152 135.7 152.5 139.66 153 143.73 153.5 147.97 154 152.32 154.5 156.63 155 160.8 155.5 164.74 156 168.57 156.5 172.28 157 175.87 157.5 179.33 158 182.66 158.5 185.87 159 188.87 159.5 191.59 160 194.05 160.5 196.5 161 199.06 161.5 201.65 162 204.24 162.5 206.79 163 209.24 163.5 211.56 164 213.81 164.5 216.1 165 218.26 165.5 220.12 166 221.5 166.5 222.57 167 223.54 167.5 224.23 168 224.5 168.5 224.29 169 223.73 169.5 222.93 170 222 170.5 220.65 171 218.68 171.5 216.37 172 214 172.5 211.61 173 209.02 173.5 206.17 174 203 174.5 199.32 175 195.12 175.5 190.55 176 185.81 176.5 181.05 177 176.13 177.5 170.98 178 165.7 178.5 160.36 179 155.02 179.5 149.76 180 144.57 180.5 139.24 181 134.05 181.5 129.35 182 125.26 182.5 121.48 183 118.05 183.5 115 184 112.26 184.5 109.72 185 107.35 185.5 105.15 186 103.08 186.5 101.11 187 99.21 187.5 97.39 188 95.67 188.5 94.08 189 92.66 189.5 91.43 190 90.29 190.5 89.23 191 88.23 191.5 87.3 192 86.41 192.5 85.57 193 84.78 193.5 84.02 194 83.29 194.5 82.57 195 81.87 195.5 81.18 196 80.52 196.5 79.91 197 79.36 197.5 78.89 198 78.5 198.5 78.16 199 77.83 199.5 77.51 200 77.2 200.5 76.92 201 76.66 201.5 76.44 202 76.26 202.5 76.12 203 76.03 203.5 76 204 76.04 204.5 76.16 205 76.34 205.5 76.58 206 76.86 206.5 77.17 207 77.5 207.5 77.91 208 78.48 208.5 79.17 209 79.98 209.5 80.9 210 81.91 210.5 83 211 84.29 211.5 85.87 212 87.72 212.5 89.78 213 92.01 213.5 94.36 214 96.81 214.5 99.34 215 102.24 215.5 105.43 216 108.71 216.5 111.94 217 115.24 217.5 118.59 218 121.97 218.5 125.33 219 128.62 219.5 131.83 220 135.06 220.5 138.41 221 142 221.5 146.01 222 150.37 222.5 154.73 223 158.78 223.5 162.66 224 166.46 224.5 170.1 225 173.51 225.5 176.59 226 179.4 226.5 182.01 227 184.48 227.5 186.85 228 189.19 228.5 191.53 229 193.87 229.5 196.12 230 198.32 230.5 200.49 231 202.66 231.5 204.87 232 207.14 232.5 209.51 233 212.09 233.5 214.89 234 217.6 234.5 219.92 235 221.86 235.5 223.6 236 225.27 236.5 227 237 228.78 237.5 230.54 238 232.32 238.5 234.13 239 236 239.5 238.02 240 240.2 240.5 242.41 241 244.54 241.5 246.48 242 248.1 242.5 249.53 243 250.88 243.5 252.14 244 253.32 244.5 254.43 245 255.48 245.5 256.48 246 257.44 246.5 258.37 247 259.26 247.5 260.11 248 260.94 248.5 261.72 249 262.47 249.5 263.18 250 263.84 250.5 264.46 251 265.05 251.5 265.61 252 266.17 252.5 266.71 253 267.23 253.5 267.74 254 268.23 254.5 268.7 255 269.14 255.5 269.57 256 269.97 256.5 270.34 257 270.69 257.5 271.01 258 271.3 258.5 271.57 259 271.81 259.5 272.05 260 272.27 260.5 272.48 261 272.68 261.5 272.87 262 273.05 262.5 273.23 263 273.4 263.5 273.57 264 273.73 264.5 273.9 265 274.07 265.5 274.23 266 274.4 266.5 274.57 267 274.73 267.5 274.89 268 275.05 268.5 275.21 269 275.36 269.5 275.51 270 275.65 270.5 275.8 271 275.93 271.5 276.07 272 276.2 272.5 276.33 273 276.45 273.5 276.57 274 276.7 274.5 276.82 275 276.94 275.5 277.07 276 277.18 276.5 277.3 277 277.41 277.5 277.51 278 277.61 278.5 277.69 279 277.77 279.5 277.84 280 277.89 280.5 277.94 281 277.98 281.5 278.02 282 278.06 282.5 278.1 283 278.14 283.5 278.17 284 278.21 284.5 278.24 285 278.27 285.5 278.3 286 278.33 286.5 278.35 287 278.38 287.5 278.41 288 278.43 288.5 278.45 289 278.48 289.5 278.5 290 278.52 290.5 278.54 291 278.56 291.5 278.58 292 278.6 292.5 278.62 293 278.64 293.5 278.65 294 278.67 294.5 278.69 295 278.71 295.5 278.72 296 278.74 296.5 278.76 297 278.77 297.5 278.79 298 278.81 298.5 278.82 299 278.84 299.5 278.85 300 278.86 300.5 278.88 301 278.89 301.5 278.9 302 278.92 302.5 278.93 303 278.94 303.5 278.96 304 278.97 304.5 278.98 305 278.99 305.5 279 306 279.01 306.5 279.02 307 279.04 307.5 279.05 308 279.06 308.5 279.07 309 279.08 309.5 279.09 310 279.1 310.5 279.11 311 279.12 311.5 279.13 312 279.14 312.5 279.15 313 279.16 313.5 279.17 314 279.18 314.5 279.19 315 279.2 315.5 279.21 316 279.22 316.5 279.22 317 279.23 317.5 279.24 318 279.25 318.5 279.26 319 279.26 319.5 279.27 320 279.28 320.5 279.29 321 279.29" fill="none" stroke="#000" stroke-width="1.5"/>
<path d="M23.4 278.71V280.29M21.55 278.71h3.7M21.55 280.29h3.7M25.64 278.7V280.3M23.79 278.7h3.7M23.79 280.3h3.7M27.88 278.7V280.3M26.03 278.7h3.7M26.03 280.3h3.7M30.12 278.17V279.78M28.27 278.17h3.7M28.27 279.78h3.7M32.36 278.69V280.31M30.51 278.69h3.7M30.51 280.31h3.7M34.61 278.68V280.32M32.76 278.68h3.7M32.76 280.32h3.7M36.85 278.41V280.06M35 278.41h3.7M35 280.06h3.7M39.09 278.66V280.34M37.24 278.66h3.7M37.24 280.34h3.7M41.33 278.65V280.35M39.48 278.65h3.7M39.48 280.35h3.7M43.57 278.62V280.34M41.72 278.62h3.7M41.72 280.34h3.7M45.81 278.42V280.17M43.96 278.42h3.7M43.96 280.17h3.7M48.06 278.59V280.37M46.21 278.59h3.7M46.21 280.37h3.7M50.3 277.83V279.65M48.45 277.83h3.7M48.45 279.65h3.7M52.54 277.91V279.81M50.69 277.91h3.7M50.69 279.81h3.7M54.78 277.15V279.23M52.93 277.15h3.7M52.93 279.23h3.7M57.02 276.35V278.84M55.17 276.35h3.7M55.17 278.84h3.7M59.26 273.87V276.84M57.41 273.87h3.7M57.41 276.84h3.7M61.51 273.42V276.42M59.66 273.42h3.7M59.66 276.42h3.7M63.75 273.58V276.47M61.9 273.58h3.7M61.9 276.47h3.7M65.99 274.44V277.24M64.14 274.44h3.7M64.14 277.24h3.7M68.23 274.69V277.47M66.38 274.69h3.7M66.38 277.47h3.7M70.47 274.15V277M68.62 274.15h3.7M68.62 277h3.7M72.72 274.47V277.53M70.87 274.47h3.7M70.87 277.53h3.7M74.96 273.09V276.38M73.11 273.09h3.7M73.11 276.38h3.7M77.2 268.35V271.85M75.35 268.35h3.7M75.35 271.85h3.7M79.44 266.93V270.77M77.59 266.93h3.7M77.59 270.77h3.7M81.68 265.52V269.82M79.83 265.52h3.7M79.83 269.82h3.7M83.92 261.35V266.14M82.07 261.35h3.7M82.07 266.14h3.7M86.17 259.64V264.73M84.32 259.64h3.7M84.32 264.73h3.7M88.41 258.57V263.78M86.56 258.57h3.7M86.56 263.78h3.7M90.65 260.73V266.01M88.8 260.73h3.7M88.8 266.01h3.7M92.89 255.3V260.65M91.04 255.3h3.7M91.04 260.65h3.7M95.13 255.57V261.01M93.28 255.57h3.7M93.28 261.01h3.7M97.37 258.17V263.73M95.52 258.17h3.7M95.52 263.73h3.7M99.62 255.8V261.38M97.77 255.8h3.7M97.77 261.38h3.7M101.86 256.09V261.64M100.01 256.09h3.7M100.01 261.64h3.7M104.1 256.17V261.52M102.25 256.17h3.7M102.25 261.52h3.7M106.34 257.47V262.51M104.49 257.47h3.7M104.49 262.51h3.7M108.58 262.1V266.89M106.73 262.1h3.7M106.73 266.89h3.7M110.82 262.97V267.65M108.97 262.97h3.7M108.97 267.65h3.7M113.07 259.65V264.51M111.22 259.65h3.7M111.22 264.51h3.7M115.31 252.93V258.59M113.46 252.93h3.7M113.46 258.59h3.7M117.55 238.05V245.12M115.7 238.05h3.7M115.7 245.12h3.7M119.79 212.75V221.48M117.94 212.75h3.7M117.94 221.48h3.7M122.03 185.33V195.78M120.18 185.33h3.7M120.18 195.78h3.7M124.28 152.4V164.51M122.43 152.4h3.7M122.43 164.51h3.7M126.52 128.34V141.55M124.67 128.34h3.7M124.67 141.55h3.7M128.76 101.25V115.53M126.91 101.25h3.7M126.91 115.53h3.7M131 83.56V98.69M129.15 83.56h3.7M129.15 98.69h3.7M133.24 71.23V86.85M131.39 71.23h3.7M131.39 86.85h3.7M135.48 58.72V74.7M133.63 58.72h3.7M133.63 74.7h3.7M137.73 49.8V65.91M135.88 49.8h3.7M135.88 65.91h3.7M139.97 56.73V72.85M138.12 56.73h3.7M138.12 72.85h3.7M142.21 54.19V70.2M140.36 54.19h3.7M140.36 70.2h3.7M144.45 66.29V82.09M142.6 66.29h3.7M142.6 82.09h3.7M146.69 73.65V88.89M144.84 73.65h3.7M144.84 88.89h3.7M148.93 109.45V123.61M147.08 109.45h3.7M147.08 123.61h3.7M151.18 123.87V137.27M149.33 123.87h3.7M149.33 137.27h3.7M153.42 137.25V149.85M151.57 137.25h3.7M151.57 149.85h3.7M155.66 159.1V170.83M153.81 159.1h3.7M153.81 170.83h3.7M157.9 176.71V187.63M156.05 176.71h3.7M156.05 187.63h3.7M160.14 190.39V200.62M158.29 190.39h3.7M158.29 200.62h3.7M162.39 198.84V208.41M160.54 198.84h3.7M160.54 208.41h3.7M164.63 209.5V218.41M162.78 209.5h3.7M162.78 218.41h3.7M166.87 219.53V228M165.02 219.53h3.7M165.02 228h3.7M169.11 218.26V226.71M167.26 218.26h3.7M167.26 226.71h3.7M171.35 213.21V222.09M169.5 213.21h3.7M169.5 222.09h3.7M173.59 202.81V212.41M171.74 202.81h3.7M171.74 212.41h3.7M175.84 177.24V187.87M173.99 177.24h3.7M173.99 187.87h3.7M178.08 159.81V171.59M176.23 159.81h3.7M176.23 171.59h3.7M180.32 139.98V152.85M178.47 139.98h3.7M178.47 152.85h3.7M182.56 115.04V128.78M180.71 115.04h3.7M180.71 128.78h3.7M184.8 100.69V114.94M182.95 100.69h3.7M182.95 114.94h3.7M187.04 97.98V112.59M185.19 97.98h3.7M185.19 112.59h3.7M189.29 88.8V103.68M187.44 88.8h3.7M187.44 103.68h3.7M191.53 86.74V101.8M189.68 86.74h3.7M189.68 101.8h3.7M193.77 77.92V93.12M191.92 77.92h3.7M191.92 93.12h3.7M196.01 69.98V85.29M194.16 69.98h3.7M194.16 85.29h3.7M198.25 73.56V88.94M196.4 73.56h3.7M196.4 88.94h3.7M200.49 70.7V86.14M198.64 70.7h3.7M198.64 86.14h3.7M202.74 75.04V90.51M200.89 75.04h3.7M200.89 90.51h3.7M204.98 72.83V88.29M203.13 72.83h3.7M203.13 88.29h3.7M207.22 66.44V81.85M205.37 66.44h3.7M205.37 81.85h3.7M209.46 71.52V86.81M207.61 71.52h3.7M207.61 86.81h3.7M211.7 86.04V101.12M209.85 86.04h3.7M209.85 101.12h3.7M213.95 95.17V109.88M212.1 95.17h3.7M212.1 109.88h3.7M216.19 102.96V117.14M214.34 102.96h3.7M214.34 117.14h3.7M218.43 119.84V133.41M216.58 119.84h3.7M216.58 133.41h3.7M220.67 135.71V148.66M218.82 135.71h3.7M218.82 148.66h3.7M222.91 153.71V165.82M221.06 153.71h3.7M221.06 165.82h3.7M225.15 171.56V182.87M223.3 171.56h3.7M223.3 182.87h3.7M227.4 181.77V192.47M225.55 181.77h3.7M225.55 192.47h3.7M229.64 191.41V201.52M227.79 191.41h3.7M227.79 201.52h3.7M231.88 201.14V210.68M230.03 201.14h3.7M230.03 210.68h3.7M234.12 215.69V224.55M232.27 215.69h3.7M232.27 224.55h3.7M236.36 215.82V224.16M234.51 215.82h3.7M234.51 224.16h3.7M238.6 228.25V236.06M236.75 228.25h3.7M236.75 236.06h3.7M240.85 237.64V244.77M239 237.64h3.7M239 244.77h3.7M243.09 241.79V248.35M241.24 241.79h3.7M241.24 248.35h3.7M245.33 249.47V255.62M243.48 249.47h3.7M243.48 255.62h3.7M247.57 251.42V257.23M245.72 251.42h3.7M245.72 257.23h3.7M249.81 257.16V262.63M247.96 257.16h3.7M247.96 262.63h3.7M252.06 258.47V263.63M250.21 258.47h3.7M250.21 263.63h3.7M254.3 261.96V266.85M252.45 261.96h3.7M252.45 266.85h3.7M256.54 264.61V269.25M254.69 264.61h3.7M254.69 269.25h3.7M258.78 264.95V269.41M256.93 264.95h3.7M256.93 269.41h3.7M261.02 264.49V268.81M259.17 264.49h3.7M259.17 268.81h3.7M263.26 264.78V268.96M261.41 264.78h3.7M261.41 268.96h3.7M265.51 269.5V273.54M263.66 269.5h3.7M263.66 273.54h3.7M267.75 268.47V272.35M265.9 268.47h3.7M265.9 272.35h3.7M269.99 268.85V272.58M268.14 268.85h3.7M268.14 272.58h3.7M272.23 270.6V274.19M270.38 270.6h3.7M270.38 274.19h3.7M274.47 271.12V274.56M272.62 271.12h3.7M272.62 274.56h3.7M276.71 272.9V276.19M274.86 272.9h3.7M274.86 276.19h3.7M278.96 272.85V276.02M277.11 272.85h3.7M277.11 276.02h3.7M281.2 273.33V276.4M279.35 273.33h3.7M279.35 276.4h3.7M283.44 273.17V276.15M281.59 273.17h3.7M281.59 276.15h3.7M285.68 274.53V277.43M283.83 274.53h3.7M283.83 277.43h3.7M287.92 273.73V276.55M286.07 273.73h3.7M286.07 276.55h3.7M290.16 275.39V278.13M288.31 275.39h3.7M288.31 278.13h3.7M292.41 276.35V279.01M290.56 276.35h3.7M290.56 279.01h3.7M294.65 274.49V277.07M292.8 274.49h3.7M292.8 277.07h3.7M296.89 274.05V276.59M295.04 274.05h3.7M295.04 276.59h3.7M299.13 276.37V278.86M297.28 276.37h3.7M297.28 278.86h3.7M301.37 277.83V280.28M299.52 277.83h3.7M299.52 280.28h3.7M303.62 275.61V278.02M301.77 275.61h3.7M301.77 278.02h3.7M305.86 275.61V277.98M304.01 275.61h3.7M304.01 277.98h3.7M308.1 276.96V279.28M306.25 276.96h3.7M306.25 279.28h3.7M310.34 276.2V278.49M308.49 276.2h3.7M308.49 278.49h3.7M312.58 276.57V278.81M310.73 276.57h3.7M310.73 278.81h3.7M314.82 276.82V279.02M312.97 276.82h3.7M312.97 279.02h3.7M317.07 277.49V279.65M315.22 277.49h3.7M315.22 279.65h3.7M319.31 277.07V279.19M317.46 277.07h3.7M317.46 279.19h3.7M135.1 91.18V105.82M133.25 91.18h3.7M133.25 105.82h3.7M128.4 89.35V104.05M126.55 89.35h3.7M126.55 104.05h3.7M132.6 68.26V83.74M130.75 68.26h3.7M130.75 83.74h3.7M137.6 64.19V79.81M135.75 64.19h3.7M135.75 79.81h3.7M136.8 71.52V86.88M134.95 71.52h3.7M134.95 86.88h3.7M146.2 88.43V103.17M144.35 88.43h3.7M144.35 103.17h3.7M206.4 83.34V98.26M204.55 83.34h3.7M204.55 98.26h3.7M129 103.11V117.29M127.15 103.11h3.7M127.15 117.29h3.7M131 101.48V115.72M129.15 101.48h3.7M129.15 115.72h3.7" stroke="#000" stroke-width="1.35" fill="none"/>
<path d="M21.7 279.5a1.7 1.7 0 1 0 3.4 0a1.7 1.7 0 1 0 -3.4 0M23.94 279.5a1.7 1.7 0 1 0 3.4 0a1.7 1.7 0 1 0 -3.4 0M26.18 279.5a1.7 1.7 0 1 0 3.4 0a1.7 1.7 0 1 0 -3.4 0M28.42 278.98a1.7 1.7 0 1 0 3.4 0a1.7 1.7 0 1 0 -3.4 0M30.66 279.5a1.7 1.7 0 1 0 3.4 0a1.7 1.7 0 1 0 -3.4 0M32.91 279.5a1.7 1.7 0 1 0 3.4 0a1.7 1.7 0 1 0 -3.4 0M35.15 279.23a1.7 1.7 0 1 0 3.4 0a1.7 1.7 0 1 0 -3.4 0M37.39 279.5a1.7 1.7 0 1 0 3.4 0a1.7 1.7 0 1 0 -3.4 0M39.63 279.5a1.7 1.7 0 1 0 3.4 0a1.7 1.7 0 1 0 -3.4 0M41.87 279.48a1.7 1.7 0 1 0 3.4 0a1.7 1.7 0 1 0 -3.4 0M44.11 279.29a1.7 1.7 0 1 0 3.4 0a1.7 1.7 0 1 0 -3.4 0M46.36 279.48a1.7 1.7 0 1 0 3.4 0a1.7 1.7 0 1 0 -3.4 0M48.6 278.74a1.7 1.7 0 1 0 3.4 0a1.7 1.7 0 1 0 -3.4 0M50.84 278.86a1.7 1.7 0 1 0 3.4 0a1.7 1.7 0 1 0 -3.4 0M53.08 278.19a1.7 1.7 0 1 0 3.4 0a1.7 1.7 0 1 0 -3.4 0M55.32 277.59a1.7 1.7 0 1 0 3.4 0a1.7 1.7 0 1 0 -3.4 0M57.56 275.36a1.7 1.7 0 1 0 3.4 0a1.7 1.7 0 1 0 -3.4 0M59.81 274.92a1.7 1.7 0 1 0 3.4 0a1.7 1.7 0 1 0 -3.4 0M62.05 275.02a1.7 1.7 0 1 0 3.4 0a1.7 1.7 0 1 0 -3.4 0M64.29 275.84a1.7 1.7 0 1 0 3.4 0a1.7 1.7 0 1 0 -3.4 0M66.53 276.08a1.7 1.7 0 1 0 3.4 0a1.7 1.7 0 1 0 -3.4 0M68.77 275.58a1.7 1.7 0 1 0 3.4 0a1.7 1.7 0 1 0 -3.4 0M71.02 276a1.7 1.7 0 1 0 3.4 0a1.7 1.7 0 1 0 -3.4 0M73.26 274.73a1.7 1.7 0 1 0 3.4 0a1.7 1.7 0 1 0 -3.4 0M75.5 270.1a1.7 1.7 0 1 0 3.4 0a1.7 1.7 0 1 0 -3.4 0M77.74 268.85a1.7 1.7 0 1 0 3.4 0a1.7 1.7 0 1 0 -3.4 0M79.98 267.67a1.7 1.7 0 1 0 3.4 0a1.7 1.7 0 1 0 -3.4 0M82.22 263.75a1.7 1.7 0 1 0 3.4 0a1.7 1.7 0 1 0 -3.4 0M84.47 262.19a1.7 1.7 0 1 0 3.4 0a1.7 1.7 0 1 0 -3.4 0M86.71 261.18a1.7 1.7 0 1 0 3.4 0a1.7 1.7 0 1 0 -3.4 0M88.95 263.37a1.7 1.7 0 1 0 3.4 0a1.7 1.7 0 1 0 -3.4 0M91.19 257.98a1.7 1.7 0 1 0 3.4 0a1.7 1.7 0 1 0 -3.4 0M93.43 258.29a1.7 1.7 0 1 0 3.4 0a1.7 1.7 0 1 0 -3.4 0M95.67 260.95a1.7 1.7 0 1 0 3.4 0a1.7 1.7 0 1 0 -3.4 0M97.92 258.59a1.7 1.7 0 1 0 3.4 0a1.7 1.7 0 1 0 -3.4 0M100.16 258.87a1.7 1.7 0 1 0 3.4 0a1.7 1.7 0 1 0 -3.4 0M102.4 258.84a1.7 1.7 0 1 0 3.4 0a1.7 1.7 0 1 0 -3.4 0M104.64 259.99a1.7 1.7 0 1 0 3.4 0a1.7 1.7 0 1 0 -3.4 0M106.88 264.5a1.7 1.7 0 1 0 3.4 0a1.7 1.7 0 1 0 -3.4 0M109.12 265.31a1.7 1.7 0 1 0 3.4 0a1.7 1.7 0 1 0 -3.4 0M111.37 262.08a1.7 1.7 0 1 0 3.4 0a1.7 1.7 0 1 0 -3.4 0M113.61 255.76a1.7 1.7 0 1 0 3.4 0a1.7 1.7 0 1 0 -3.4 0M115.85 241.59a1.7 1.7 0 1 0 3.4 0a1.7 1.7 0 1 0 -3.4 0M118.09 217.11a1.7 1.7 0 1 0 3.4 0a1.7 1.7 0 1 0 -3.4 0M120.33 190.56a1.7 1.7 0 1 0 3.4 0a1.7 1.7 0 1 0 -3.4 0M122.58 158.46a1.7 1.7 0 1 0 3.4 0a1.7 1.7 0 1 0 -3.4 0M124.82 134.95a1.7 1.7 0 1 0 3.4 0a1.7 1.7 0 1 0 -3.4 0M127.06 108.39a1.7 1.7 0 1 0 3.4 0a1.7 1.7 0 1 0 -3.4 0M129.3 91.12a1.7 1.7 0 1 0 3.4 0a1.7 1.7 0 1 0 -3.4 0M131.54 79.04a1.7 1.7 0 1 0 3.4 0a1.7 1.7 0 1 0 -3.4 0M133.78 66.71a1.7 1.7 0 1 0 3.4 0a1.7 1.7 0 1 0 -3.4 0M136.03 57.85a1.7 1.7 0 1 0 3.4 0a1.7 1.7 0 1 0 -3.4 0M138.27 64.79a1.7 1.7 0 1 0 3.4 0a1.7 1.7 0 1 0 -3.4 0M140.51 62.2a1.7 1.7 0 1 0 3.4 0a1.7 1.7 0 1 0 -3.4 0M142.75 74.19a1.7 1.7 0 1 0 3.4 0a1.7 1.7 0 1 0 -3.4 0M144.99 81.27a1.7 1.7 0 1 0 3.4 0a1.7 1.7 0 1 0 -3.4 0M147.23 116.53a1.7 1.7 0 1 0 3.4 0a1.7 1.7 0 1 0 -3.4 0M149.48 130.57a1.7 1.7 0 1 0 3.4 0a1.7 1.7 0 1 0 -3.4 0M151.72 143.55a1.7 1.7 0 1 0 3.4 0a1.7 1.7 0 1 0 -3.4 0M153.96 164.97a1.7 1.7 0 1 0 3.4 0a1.7 1.7 0 1 0 -3.4 0M156.2 182.17a1.7 1.7 0 1 0 3.4 0a1.7 1.7 0 1 0 -3.4 0M158.44 195.51a1.7 1.7 0 1 0 3.4 0a1.7 1.7 0 1 0 -3.4 0M160.69 203.63a1.7 1.7 0 1 0 3.4 0a1.7 1.7 0 1 0 -3.4 0M162.93 213.95a1.7 1.7 0 1 0 3.4 0a1.7 1.7 0 1 0 -3.4 0M165.17 223.77a1.7 1.7 0 1 0 3.4 0a1.7 1.7 0 1 0 -3.4 0M167.41 222.48a1.7 1.7 0 1 0 3.4 0a1.7 1.7 0 1 0 -3.4 0M169.65 217.65a1.7 1.7 0 1 0 3.4 0a1.7 1.7 0 1 0 -3.4 0M171.89 207.61a1.7 1.7 0 1 0 3.4 0a1.7 1.7 0 1 0 -3.4 0M174.14 182.56a1.7 1.7 0 1 0 3.4 0a1.7 1.7 0 1 0 -3.4 0M176.38 165.7a1.7 1.7 0 1 0 3.4 0a1.7 1.7 0 1 0 -3.4 0M178.62 146.42a1.7 1.7 0 1 0 3.4 0a1.7 1.7 0 1 0 -3.4 0M180.86 121.91a1.7 1.7 0 1 0 3.4 0a1.7 1.7 0 1 0 -3.4 0M183.1 107.82a1.7 1.7 0 1 0 3.4 0a1.7 1.7 0 1 0 -3.4 0M185.34 105.28a1.7 1.7 0 1 0 3.4 0a1.7 1.7 0 1 0 -3.4 0M187.59 96.24a1.7 1.7 0 1 0 3.4 0a1.7 1.7 0 1 0 -3.4 0M189.83 94.27a1.7 1.7 0 1 0 3.4 0a1.7 1.7 0 1 0 -3.4 0M192.07 85.52a1.7 1.7 0 1 0 3.4 0a1.7 1.7 0 1 0 -3.4 0M194.31 77.64a1.7 1.7 0 1 0 3.4 0a1.7 1.7 0 1 0 -3.4 0M196.55 81.25a1.7 1.7 0 1 0 3.4 0a1.7 1.7 0 1 0 -3.4 0M198.79 78.42a1.7 1.7 0 1 0 3.4 0a1.7 1.7 0 1 0 -3.4 0M201.04 82.77a1.7 1.7 0 1 0 3.4 0a1.7 1.7 0 1 0 -3.4 0M203.28 80.56a1.7 1.7 0 1 0 3.4 0a1.7 1.7 0 1 0 -3.4 0M205.52 74.14a1.7 1.7 0 1 0 3.4 0a1.7 1.7 0 1 0 -3.4 0M207.76 79.17a1.7 1.7 0 1 0 3.4 0a1.7 1.7 0 1 0 -3.4 0M210 93.58a1.7 1.7 0 1 0 3.4 0a1.7 1.7 0 1 0 -3.4 0M212.25 102.52a1.7 1.7 0 1 0 3.4 0a1.7 1.7 0 1 0 -3.4 0M214.49 110.05a1.7 1.7 0 1 0 3.4 0a1.7 1.7 0 1 0 -3.4 0M216.73 126.63a1.7 1.7 0 1 0 3.4 0a1.7 1.7 0 1 0 -3.4 0M218.97 142.18a1.7 1.7 0 1 0 3.4 0a1.7 1.7 0 1 0 -3.4 0M221.21 159.76a1.7 1.7 0 1 0 3.4 0a1.7 1.7 0 1 0 -3.4 0M223.45 177.22a1.7 1.7 0 1 0 3.4 0a1.7 1.7 0 1 0 -3.4 0M225.7 187.12a1.7 1.7 0 1 0 3.4 0a1.7 1.7 0 1 0 -3.4 0M227.94 196.46a1.7 1.7 0 1 0 3.4 0a1.7 1.7 0 1 0 -3.4 0M230.18 205.91a1.7 1.7 0 1 0 3.4 0a1.7 1.7 0 1 0 -3.4 0M232.42 220.12a1.7 1.7 0 1 0 3.4 0a1.7 1.7 0 1 0 -3.4 0M234.66 219.99a1.7 1.7 0 1 0 3.4 0a1.7 1.7 0 1 0 -3.4 0M236.9 232.15a1.7 1.7 0 1 0 3.4 0a1.7 1.7 0 1 0 -3.4 0M239.15 241.2a1.7 1.7 0 1 0 3.4 0a1.7 1.7 0 1 0 -3.4 0M241.39 245.07a1.7 1.7 0 1 0 3.4 0a1.7 1.7 0 1 0 -3.4 0M243.63 252.55a1.7 1.7 0 1 0 3.4 0a1.7 1.7 0 1 0 -3.4 0M245.87 254.33a1.7 1.7 0 1 0 3.4 0a1.7 1.7 0 1 0 -3.4 0M248.11 259.9a1.7 1.7 0 1 0 3.4 0a1.7 1.7 0 1 0 -3.4 0M250.36 261.05a1.7 1.7 0 1 0 3.4 0a1.7 1.7 0 1 0 -3.4 0M252.6 264.41a1.7 1.7 0 1 0 3.4 0a1.7 1.7 0 1 0 -3.4 0M254.84 266.93a1.7 1.7 0 1 0 3.4 0a1.7 1.7 0 1 0 -3.4 0M257.08 267.18a1.7 1.7 0 1 0 3.4 0a1.7 1.7 0 1 0 -3.4 0M259.32 266.65a1.7 1.7 0 1 0 3.4 0a1.7 1.7 0 1 0 -3.4 0M261.56 266.87a1.7 1.7 0 1 0 3.4 0a1.7 1.7 0 1 0 -3.4 0M263.81 271.52a1.7 1.7 0 1 0 3.4 0a1.7 1.7 0 1 0 -3.4 0M266.05 270.41a1.7 1.7 0 1 0 3.4 0a1.7 1.7 0 1 0 -3.4 0M268.29 270.72a1.7 1.7 0 1 0 3.4 0a1.7 1.7 0 1 0 -3.4 0M270.53 272.39a1.7 1.7 0 1 0 3.4 0a1.7 1.7 0 1 0 -3.4 0M272.77 272.84a1.7 1.7 0 1 0 3.4 0a1.7 1.7 0 1 0 -3.4 0M275.01 274.55a1.7 1.7 0 1 0 3.4 0a1.7 1.7 0 1 0 -3.4 0M277.26 274.44a1.7 1.7 0 1 0 3.4 0a1.7 1.7 0 1 0 -3.4 0M279.5 274.87a1.7 1.7 0 1 0 3.4 0a1.7 1.7 0 1 0 -3.4 0M281.74 274.66a1.7 1.7 0 1 0 3.4 0a1.7 1.7 0 1 0 -3.4 0M283.98 275.98a1.7 1.7 0 1 0 3.4 0a1.7 1.7 0 1 0 -3.4 0M286.22 275.14a1.7 1.7 0 1 0 3.4 0a1.7 1.7 0 1 0 -3.4 0M288.46 276.76a1.7 1.7 0 1 0 3.4 0a1.7 1.7 0 1 0 -3.4 0M290.71 277.68a1.7 1.7 0 1 0 3.4 0a1.7 1.7 0 1 0 -3.4 0M292.95 275.78a1.7 1.7 0 1 0 3.4 0a1.7 1.7 0 1 0 -3.4 0M295.19 275.32a1.7 1.7 0 1 0 3.4 0a1.7 1.7 0 1 0 -3.4 0M297.43 277.61a1.7 1.7 0 1 0 3.4 0a1.7 1.7 0 1 0 -3.4 0M299.67 279.05a1.7 1.7 0 1 0 3.4 0a1.7 1.7 0 1 0 -3.4 0M301.92 276.81a1.7 1.7 0 1 0 3.4 0a1.7 1.7 0 1 0 -3.4 0M304.16 276.8a1.7 1.7 0 1 0 3.4 0a1.7 1.7 0 1 0 -3.4 0M306.4 278.12a1.7 1.7 0 1 0 3.4 0a1.7 1.7 0 1 0 -3.4 0M308.64 277.35a1.7 1.7 0 1 0 3.4 0a1.7 1.7 0 1 0 -3.4 0M310.88 277.69a1.7 1.7 0 1 0 3.4 0a1.7 1.7 0 1 0 -3.4 0M313.12 277.92a1.7 1.7 0 1 0 3.4 0a1.7 1.7 0 1 0 -3.4 0M315.37 278.57a1.7 1.7 0 1 0 3.4 0a1.7 1.7 0 1 0 -3.4 0M317.61 278.13a1.7 1.7 0 1 0 3.4 0a1.7 1.7 0 1 0 -3.4 0M133.4 98.5a1.7 1.7 0 1 0 3.4 0a1.7 1.7 0 1 0 -3.4 0M126.7 96.7a1.7 1.7 0 1 0 3.4 0a1.7 1.7 0 1 0 -3.4 0M130.9 76a1.7 1.7 0 1 0 3.4 0a1.7 1.7 0 1 0 -3.4 0M135.9 72a1.7 1.7 0 1 0 3.4 0a1.7 1.7 0 1 0 -3.4 0M135.1 79.2a1.7 1.7 0 1 0 3.4 0a1.7 1.7 0 1 0 -3.4 0M144.5 95.8a1.7 1.7 0 1 0 3.4 0a1.7 1.7 0 1 0 -3.4 0M204.7 90.8a1.7 1.7 0 1 0 3.4 0a1.7 1.7 0 1 0 -3.4 0M127.3 110.2a1.7 1.7 0 1 0 3.4 0a1.7 1.7 0 1 0 -3.4 0M129.3 108.6a1.7 1.7 0 1 0 3.4 0a1.7 1.7 0 1 0 -3.4 0" fill="#000"/>
</g><g clip-path="url(#cb)">
<path d="M381.9 278.46V280.35M380.05 278.46h3.7M380.05 280.35h3.7M384.14 278.55V280.45M382.29 278.55h3.7M382.29 280.45h3.7M386.38 278.32V280.21M384.53 278.32h3.7M384.53 280.21h3.7M388.62 278.02V279.91M386.77 278.02h3.7M386.77 279.91h3.7M390.86 278.22V280.12M389.01 278.22h3.7M389.01 280.12h3.7M393.1 277.95V279.85M391.25 277.95h3.7M391.25 279.85h3.7M395.34 278.44V280.35M393.49 278.44h3.7M393.49 280.35h3.7M397.58 278.54V280.46M395.73 278.54h3.7M395.73 280.46h3.7M399.82 278.14V280.06M397.97 278.14h3.7M397.97 280.06h3.7M402.07 278.05V279.99M400.22 278.05h3.7M400.22 279.99h3.7M404.31 278.53V280.47M402.46 278.53h3.7M402.46 280.47h3.7M406.55 278.48V280.43M404.7 278.48h3.7M404.7 280.43h3.7M408.79 278.34V280.29M406.94 278.34h3.7M406.94 280.29h3.7M411.03 277.8V279.77M409.18 277.8h3.7M409.18 279.77h3.7M413.27 278.22V280.19M411.42 278.22h3.7M411.42 280.19h3.7M415.51 278.51V280.49M413.66 278.51h3.7M413.66 280.49h3.7M417.75 277.49V279.49M415.9 277.49h3.7M415.9 279.49h3.7M419.99 277.88V279.9M418.14 277.88h3.7M418.14 279.9h3.7M422.23 277.06V279.11M420.38 277.06h3.7M420.38 279.11h3.7M424.48 277.26V279.35M422.63 277.26h3.7M422.63 279.35h3.7M426.72 276.83V278.96M424.87 276.83h3.7M424.87 278.96h3.7M428.96 277.49V279.68M427.11 277.49h3.7M427.11 279.68h3.7M431.2 276.39V278.73M429.35 276.39h3.7M429.35 278.73h3.7M433.44 276.53V279.09M431.59 276.53h3.7M431.59 279.09h3.7M435.68 274.84V277.79M433.83 274.84h3.7M433.83 277.79h3.7M437.92 271.75V275.27M436.07 271.75h3.7M436.07 275.27h3.7M440.16 266.23V270.27M438.31 266.23h3.7M438.31 270.27h3.7M442.4 266.62V270.9M440.55 266.62h3.7M440.55 270.9h3.7M444.64 266.74V271.08M442.79 266.74h3.7M442.79 271.08h3.7M446.89 266.63V271M445.04 266.63h3.7M445.04 271h3.7M449.13 264.56V268.97M447.28 264.56h3.7M447.28 268.97h3.7M451.37 265.5V269.94M449.52 265.5h3.7M449.52 269.94h3.7M453.61 264.76V269.23M451.76 264.76h3.7M451.76 269.23h3.7M455.85 264.81V269.29M454 264.81h3.7M454 269.29h3.7M458.09 266.73V271.24M456.24 266.73h3.7M456.24 271.24h3.7M460.33 264.28V268.83M458.48 264.28h3.7M458.48 268.83h3.7M462.57 264.88V269.47M460.72 264.88h3.7M460.72 269.47h3.7M464.81 266.14V270.7M462.96 266.14h3.7M462.96 270.7h3.7M467.05 264.98V269.48M465.2 264.98h3.7M465.2 269.48h3.7M469.3 265.72V270.19M467.45 265.72h3.7M467.45 270.19h3.7M471.54 266.08V270.53M469.69 266.08h3.7M469.69 270.53h3.7M473.78 265.92V270.39M471.93 265.92h3.7M471.93 270.39h3.7M476.02 262.69V267.39M474.17 262.69h3.7M474.17 267.39h3.7M478.26 244.69V251.43M476.41 244.69h3.7M476.41 251.43h3.7M480.5 218.97V227.83M478.65 218.97h3.7M478.65 227.83h3.7M482.74 180.98V191.65M480.89 180.98h3.7M480.89 191.65h3.7M484.98 150.87V163.34M483.13 150.87h3.7M483.13 163.34h3.7M487.22 121.79V135.42M485.37 121.79h3.7M485.37 135.42h3.7M489.46 92.59V107.27M487.61 92.59h3.7M487.61 107.27h3.7M491.71 88.6V103.81M489.86 88.6h3.7M489.86 103.81h3.7M493.95 72.07V87.71M492.1 72.07h3.7M492.1 87.71h3.7M496.19 54.14V70.14M494.34 54.14h3.7M494.34 70.14h3.7M498.43 53.82V70.01M496.58 53.82h3.7M496.58 70.01h3.7M500.67 54.22V70.47M498.82 54.22h3.7M498.82 70.47h3.7M502.91 51.8V68.02M501.06 51.8h3.7M501.06 68.02h3.7M505.15 58.47V74.58M503.3 58.47h3.7M503.3 74.58h3.7M507.39 62.79V78.65M505.54 62.79h3.7M505.54 78.65h3.7M509.63 82.16V97.42M507.78 82.16h3.7M507.78 97.42h3.7M511.87 110.82V125.08M510.02 110.82h3.7M510.02 125.08h3.7M514.12 135.92V148.84M512.27 135.92h3.7M512.27 148.84h3.7M516.36 165.83V177.51M514.51 165.83h3.7M514.51 177.51h3.7M518.6 182.04V192.81M516.75 182.04h3.7M516.75 192.81h3.7M520.84 198.72V208.66M518.99 198.72h3.7M518.99 208.66h3.7M523.08 208.84V217.99M521.23 208.84h3.7M521.23 217.99h3.7M525.32 220.4V228.88M523.47 220.4h3.7M523.47 228.88h3.7M527.56 223.42V231.75M525.71 223.42h3.7M525.71 231.75h3.7M529.8 221.21V229.85M527.95 221.21h3.7M527.95 229.85h3.7M532.04 213.25V222.45M530.19 213.25h3.7M530.19 222.45h3.7M534.28 194.53V204.49M532.43 194.53h3.7M532.43 204.49h3.7M536.53 181.02V191.79M534.68 181.02h3.7M534.68 191.79h3.7M538.77 168.26V179.88M536.92 168.26h3.7M536.92 179.88h3.7M541.01 133.4V146.26M539.16 133.4h3.7M539.16 146.26h3.7M543.25 112.93V126.84M541.4 112.93h3.7M541.4 126.84h3.7M545.49 92.75V107.5M543.64 92.75h3.7M543.64 107.5h3.7M547.73 82.57V97.89M545.88 82.57h3.7M545.88 97.89h3.7M549.97 69.57V85.28M548.12 69.57h3.7M548.12 85.28h3.7M552.21 60.54V76.43M550.36 60.54h3.7M550.36 76.43h3.7M554.45 57.66V73.65M552.6 57.66h3.7M552.6 73.65h3.7M556.69 58.34V74.32M554.84 58.34h3.7M554.84 74.32h3.7M558.94 66.52V82.46M557.09 66.52h3.7M557.09 82.46h3.7M561.18 60.11V76.01M559.33 60.11h3.7M559.33 76.01h3.7M563.42 62.53V78.36M561.57 62.53h3.7M561.57 78.36h3.7M565.66 67.01V82.77M563.81 67.01h3.7M563.81 82.77h3.7M567.9 66.77V82.48M566.05 66.77h3.7M566.05 82.48h3.7M570.14 68.57V84.2M568.29 68.57h3.7M568.29 84.2h3.7M572.38 68.62V84.12M570.53 68.62h3.7M570.53 84.12h3.7M574.62 77.6V92.93M572.77 77.6h3.7M572.77 92.93h3.7M576.86 82.04V97.14M575.01 82.04h3.7M575.01 97.14h3.7M579.1 105.52V119.96M577.25 105.52h3.7M577.25 119.96h3.7M581.35 120.49V134.26M579.5 120.49h3.7M579.5 134.26h3.7M583.59 137.2V150.16M581.74 137.2h3.7M581.74 150.16h3.7M585.83 158.93V171M583.98 158.93h3.7M583.98 171h3.7M588.07 170.86V182.22M586.22 170.86h3.7M586.22 182.22h3.7M590.31 188.18V198.84M588.46 188.18h3.7M588.46 198.84h3.7M592.55 195.47V205.57M590.7 195.47h3.7M590.7 205.57h3.7M594.79 205.57V215.16M592.94 205.57h3.7M592.94 215.16h3.7M597.03 211.03V220.02M595.18 211.03h3.7M595.18 220.02h3.7M599.27 223.78V232.17M597.42 223.78h3.7M597.42 232.17h3.7M601.51 227.29V235.14M599.66 227.29h3.7M599.66 235.14h3.7M603.76 232.78V240.18M601.91 232.78h3.7M601.91 240.18h3.7M606 240.36V247.4M604.15 240.36h3.7M604.15 247.4h3.7M608.24 242.99V249.73M606.39 242.99h3.7M606.39 249.73h3.7M610.48 248.13V254.57M608.63 248.13h3.7M608.63 254.57h3.7M612.72 254.64V260.76M610.87 254.64h3.7M610.87 260.76h3.7M614.96 253.12V258.93M613.11 253.12h3.7M613.11 258.93h3.7M617.2 256.21V261.74M615.35 256.21h3.7M615.35 261.74h3.7M619.44 259.56V264.84M617.59 259.56h3.7M617.59 264.84h3.7M621.68 261.91V266.96M619.83 261.91h3.7M619.83 266.96h3.7M623.92 262.92V267.74M622.07 262.92h3.7M622.07 267.74h3.7M626.17 264.53V269.14M624.32 264.53h3.7M624.32 269.14h3.7M628.41 266.95V271.37M626.56 266.95h3.7M626.56 271.37h3.7M630.65 267.87V272.13M628.8 267.87h3.7M628.8 272.13h3.7M632.89 267.15V271.27M631.04 267.15h3.7M631.04 271.27h3.7M635.13 268.95V272.95M633.28 268.95h3.7M633.28 272.95h3.7M637.37 269.79V273.68M635.52 269.79h3.7M635.52 273.68h3.7M639.61 269.42V273.2M637.76 269.42h3.7M637.76 273.2h3.7M641.85 271.24V274.92M640 271.24h3.7M640 274.92h3.7M644.09 270.74V274.33M642.24 270.74h3.7M642.24 274.33h3.7M646.33 272.79V276.31M644.48 272.79h3.7M644.48 276.31h3.7M648.58 272.47V275.91M646.73 272.47h3.7M646.73 275.91h3.7M650.82 272.68V276.07M648.97 272.68h3.7M648.97 276.07h3.7M653.06 272.38V275.72M651.21 272.38h3.7M651.21 275.72h3.7M655.3 273.02V276.31M653.45 273.02h3.7M653.45 276.31h3.7M657.54 271.71V274.96M655.69 271.71h3.7M655.69 274.96h3.7M659.78 272.62V275.83M657.93 272.62h3.7M657.93 275.83h3.7M662.02 274V277.17M660.17 274h3.7M660.17 277.17h3.7M664.26 272.21V275.35M662.41 272.21h3.7M662.41 275.35h3.7M666.5 274.71V277.81M664.65 274.71h3.7M664.65 277.81h3.7M668.74 272.87V275.94M666.89 272.87h3.7M666.89 275.94h3.7M670.99 274.93V277.97M669.14 274.93h3.7M669.14 277.97h3.7M673.23 273.86V276.87M671.38 273.86h3.7M671.38 276.87h3.7M675.47 275.21V278.18M673.62 275.21h3.7M673.62 278.18h3.7M677.71 274.84V277.79M675.86 274.84h3.7M675.86 277.79h3.7" stroke="#000" stroke-width="1.35" fill="none"/>
<path d="M380.2 279.4a1.7 1.7 0 1 0 3.4 0a1.7 1.7 0 1 0 -3.4 0M382.44 279.5a1.7 1.7 0 1 0 3.4 0a1.7 1.7 0 1 0 -3.4 0M384.68 279.26a1.7 1.7 0 1 0 3.4 0a1.7 1.7 0 1 0 -3.4 0M386.92 278.97a1.7 1.7 0 1 0 3.4 0a1.7 1.7 0 1 0 -3.4 0M389.16 279.17a1.7 1.7 0 1 0 3.4 0a1.7 1.7 0 1 0 -3.4 0M391.4 278.9a1.7 1.7 0 1 0 3.4 0a1.7 1.7 0 1 0 -3.4 0M393.64 279.39a1.7 1.7 0 1 0 3.4 0a1.7 1.7 0 1 0 -3.4 0M395.88 279.5a1.7 1.7 0 1 0 3.4 0a1.7 1.7 0 1 0 -3.4 0M398.12 279.1a1.7 1.7 0 1 0 3.4 0a1.7 1.7 0 1 0 -3.4 0M400.37 279.02a1.7 1.7 0 1 0 3.4 0a1.7 1.7 0 1 0 -3.4 0M402.61 279.5a1.7 1.7 0 1 0 3.4 0a1.7 1.7 0 1 0 -3.4 0M404.85 279.46a1.7 1.7 0 1 0 3.4 0a1.7 1.7 0 1 0 -3.4 0M407.09 279.31a1.7 1.7 0 1 0 3.4 0a1.7 1.7 0 1 0 -3.4 0M409.33 278.78a1.7 1.7 0 1 0 3.4 0a1.7 1.7 0 1 0 -3.4 0M411.57 279.2a1.7 1.7 0 1 0 3.4 0a1.7 1.7 0 1 0 -3.4 0M413.81 279.5a1.7 1.7 0 1 0 3.4 0a1.7 1.7 0 1 0 -3.4 0M416.05 278.49a1.7 1.7 0 1 0 3.4 0a1.7 1.7 0 1 0 -3.4 0M418.29 278.89a1.7 1.7 0 1 0 3.4 0a1.7 1.7 0 1 0 -3.4 0M420.53 278.08a1.7 1.7 0 1 0 3.4 0a1.7 1.7 0 1 0 -3.4 0M422.78 278.3a1.7 1.7 0 1 0 3.4 0a1.7 1.7 0 1 0 -3.4 0M425.02 277.89a1.7 1.7 0 1 0 3.4 0a1.7 1.7 0 1 0 -3.4 0M427.26 278.58a1.7 1.7 0 1 0 3.4 0a1.7 1.7 0 1 0 -3.4 0M429.5 277.56a1.7 1.7 0 1 0 3.4 0a1.7 1.7 0 1 0 -3.4 0M431.74 277.81a1.7 1.7 0 1 0 3.4 0a1.7 1.7 0 1 0 -3.4 0M433.98 276.32a1.7 1.7 0 1 0 3.4 0a1.7 1.7 0 1 0 -3.4 0M436.22 273.51a1.7 1.7 0 1 0 3.4 0a1.7 1.7 0 1 0 -3.4 0M438.46 268.25a1.7 1.7 0 1 0 3.4 0a1.7 1.7 0 1 0 -3.4 0M440.7 268.76a1.7 1.7 0 1 0 3.4 0a1.7 1.7 0 1 0 -3.4 0M442.94 268.91a1.7 1.7 0 1 0 3.4 0a1.7 1.7 0 1 0 -3.4 0M445.19 268.82a1.7 1.7 0 1 0 3.4 0a1.7 1.7 0 1 0 -3.4 0M447.43 266.77a1.7 1.7 0 1 0 3.4 0a1.7 1.7 0 1 0 -3.4 0M449.67 267.72a1.7 1.7 0 1 0 3.4 0a1.7 1.7 0 1 0 -3.4 0M451.91 267a1.7 1.7 0 1 0 3.4 0a1.7 1.7 0 1 0 -3.4 0M454.15 267.05a1.7 1.7 0 1 0 3.4 0a1.7 1.7 0 1 0 -3.4 0M456.39 268.99a1.7 1.7 0 1 0 3.4 0a1.7 1.7 0 1 0 -3.4 0M458.63 266.55a1.7 1.7 0 1 0 3.4 0a1.7 1.7 0 1 0 -3.4 0M460.87 267.17a1.7 1.7 0 1 0 3.4 0a1.7 1.7 0 1 0 -3.4 0M463.11 268.42a1.7 1.7 0 1 0 3.4 0a1.7 1.7 0 1 0 -3.4 0M465.35 267.23a1.7 1.7 0 1 0 3.4 0a1.7 1.7 0 1 0 -3.4 0M467.6 267.95a1.7 1.7 0 1 0 3.4 0a1.7 1.7 0 1 0 -3.4 0M469.84 268.3a1.7 1.7 0 1 0 3.4 0a1.7 1.7 0 1 0 -3.4 0M472.08 268.16a1.7 1.7 0 1 0 3.4 0a1.7 1.7 0 1 0 -3.4 0M474.32 265.04a1.7 1.7 0 1 0 3.4 0a1.7 1.7 0 1 0 -3.4 0M476.56 248.06a1.7 1.7 0 1 0 3.4 0a1.7 1.7 0 1 0 -3.4 0M478.8 223.4a1.7 1.7 0 1 0 3.4 0a1.7 1.7 0 1 0 -3.4 0M481.04 186.31a1.7 1.7 0 1 0 3.4 0a1.7 1.7 0 1 0 -3.4 0M483.28 157.1a1.7 1.7 0 1 0 3.4 0a1.7 1.7 0 1 0 -3.4 0M485.52 128.6a1.7 1.7 0 1 0 3.4 0a1.7 1.7 0 1 0 -3.4 0M487.76 99.93a1.7 1.7 0 1 0 3.4 0a1.7 1.7 0 1 0 -3.4 0M490.01 96.2a1.7 1.7 0 1 0 3.4 0a1.7 1.7 0 1 0 -3.4 0M492.25 79.89a1.7 1.7 0 1 0 3.4 0a1.7 1.7 0 1 0 -3.4 0M494.49 62.14a1.7 1.7 0 1 0 3.4 0a1.7 1.7 0 1 0 -3.4 0M496.73 61.91a1.7 1.7 0 1 0 3.4 0a1.7 1.7 0 1 0 -3.4 0M498.97 62.35a1.7 1.7 0 1 0 3.4 0a1.7 1.7 0 1 0 -3.4 0M501.21 59.91a1.7 1.7 0 1 0 3.4 0a1.7 1.7 0 1 0 -3.4 0M503.45 66.52a1.7 1.7 0 1 0 3.4 0a1.7 1.7 0 1 0 -3.4 0M505.69 70.72a1.7 1.7 0 1 0 3.4 0a1.7 1.7 0 1 0 -3.4 0M507.93 89.79a1.7 1.7 0 1 0 3.4 0a1.7 1.7 0 1 0 -3.4 0M510.17 117.95a1.7 1.7 0 1 0 3.4 0a1.7 1.7 0 1 0 -3.4 0M512.42 142.38a1.7 1.7 0 1 0 3.4 0a1.7 1.7 0 1 0 -3.4 0M514.66 171.67a1.7 1.7 0 1 0 3.4 0a1.7 1.7 0 1 0 -3.4 0M516.9 187.43a1.7 1.7 0 1 0 3.4 0a1.7 1.7 0 1 0 -3.4 0M519.14 203.69a1.7 1.7 0 1 0 3.4 0a1.7 1.7 0 1 0 -3.4 0M521.38 213.41a1.7 1.7 0 1 0 3.4 0a1.7 1.7 0 1 0 -3.4 0M523.62 224.64a1.7 1.7 0 1 0 3.4 0a1.7 1.7 0 1 0 -3.4 0M525.86 227.59a1.7 1.7 0 1 0 3.4 0a1.7 1.7 0 1 0 -3.4 0M528.1 225.53a1.7 1.7 0 1 0 3.4 0a1.7 1.7 0 1 0 -3.4 0M530.34 217.85a1.7 1.7 0 1 0 3.4 0a1.7 1.7 0 1 0 -3.4 0M532.58 199.51a1.7 1.7 0 1 0 3.4 0a1.7 1.7 0 1 0 -3.4 0M534.83 186.4a1.7 1.7 0 1 0 3.4 0a1.7 1.7 0 1 0 -3.4 0M537.07 174.07a1.7 1.7 0 1 0 3.4 0a1.7 1.7 0 1 0 -3.4 0M539.31 139.83a1.7 1.7 0 1 0 3.4 0a1.7 1.7 0 1 0 -3.4 0M541.55 119.89a1.7 1.7 0 1 0 3.4 0a1.7 1.7 0 1 0 -3.4 0M543.79 100.12a1.7 1.7 0 1 0 3.4 0a1.7 1.7 0 1 0 -3.4 0M546.03 90.23a1.7 1.7 0 1 0 3.4 0a1.7 1.7 0 1 0 -3.4 0M548.27 77.43a1.7 1.7 0 1 0 3.4 0a1.7 1.7 0 1 0 -3.4 0M550.51 68.48a1.7 1.7 0 1 0 3.4 0a1.7 1.7 0 1 0 -3.4 0M552.75 65.65a1.7 1.7 0 1 0 3.4 0a1.7 1.7 0 1 0 -3.4 0M554.99 66.33a1.7 1.7 0 1 0 3.4 0a1.7 1.7 0 1 0 -3.4 0M557.24 74.49a1.7 1.7 0 1 0 3.4 0a1.7 1.7 0 1 0 -3.4 0M559.48 68.06a1.7 1.7 0 1 0 3.4 0a1.7 1.7 0 1 0 -3.4 0M561.72 70.44a1.7 1.7 0 1 0 3.4 0a1.7 1.7 0 1 0 -3.4 0M563.96 74.89a1.7 1.7 0 1 0 3.4 0a1.7 1.7 0 1 0 -3.4 0M566.2 74.62a1.7 1.7 0 1 0 3.4 0a1.7 1.7 0 1 0 -3.4 0M568.44 76.39a1.7 1.7 0 1 0 3.4 0a1.7 1.7 0 1 0 -3.4 0M570.68 76.37a1.7 1.7 0 1 0 3.4 0a1.7 1.7 0 1 0 -3.4 0M572.92 85.27a1.7 1.7 0 1 0 3.4 0a1.7 1.7 0 1 0 -3.4 0M575.16 89.59a1.7 1.7 0 1 0 3.4 0a1.7 1.7 0 1 0 -3.4 0M577.4 112.74a1.7 1.7 0 1 0 3.4 0a1.7 1.7 0 1 0 -3.4 0M579.65 127.37a1.7 1.7 0 1 0 3.4 0a1.7 1.7 0 1 0 -3.4 0M581.89 143.68a1.7 1.7 0 1 0 3.4 0a1.7 1.7 0 1 0 -3.4 0M584.13 164.96a1.7 1.7 0 1 0 3.4 0a1.7 1.7 0 1 0 -3.4 0M586.37 176.54a1.7 1.7 0 1 0 3.4 0a1.7 1.7 0 1 0 -3.4 0M588.61 193.51a1.7 1.7 0 1 0 3.4 0a1.7 1.7 0 1 0 -3.4 0M590.85 200.52a1.7 1.7 0 1 0 3.4 0a1.7 1.7 0 1 0 -3.4 0M593.09 210.37a1.7 1.7 0 1 0 3.4 0a1.7 1.7 0 1 0 -3.4 0M595.33 215.52a1.7 1.7 0 1 0 3.4 0a1.7 1.7 0 1 0 -3.4 0M597.57 227.98a1.7 1.7 0 1 0 3.4 0a1.7 1.7 0 1 0 -3.4 0M599.81 231.22a1.7 1.7 0 1 0 3.4 0a1.7 1.7 0 1 0 -3.4 0M602.06 236.48a1.7 1.7 0 1 0 3.4 0a1.7 1.7 0 1 0 -3.4 0M604.3 243.88a1.7 1.7 0 1 0 3.4 0a1.7 1.7 0 1 0 -3.4 0M606.54 246.36a1.7 1.7 0 1 0 3.4 0a1.7 1.7 0 1 0 -3.4 0M608.78 251.35a1.7 1.7 0 1 0 3.4 0a1.7 1.7 0 1 0 -3.4 0M611.02 257.7a1.7 1.7 0 1 0 3.4 0a1.7 1.7 0 1 0 -3.4 0M613.26 256.03a1.7 1.7 0 1 0 3.4 0a1.7 1.7 0 1 0 -3.4 0M615.5 258.97a1.7 1.7 0 1 0 3.4 0a1.7 1.7 0 1 0 -3.4 0M617.74 262.2a1.7 1.7 0 1 0 3.4 0a1.7 1.7 0 1 0 -3.4 0M619.98 264.44a1.7 1.7 0 1 0 3.4 0a1.7 1.7 0 1 0 -3.4 0M622.22 265.33a1.7 1.7 0 1 0 3.4 0a1.7 1.7 0 1 0 -3.4 0M624.47 266.84a1.7 1.7 0 1 0 3.4 0a1.7 1.7 0 1 0 -3.4 0M626.71 269.16a1.7 1.7 0 1 0 3.4 0a1.7 1.7 0 1 0 -3.4 0M628.95 270a1.7 1.7 0 1 0 3.4 0a1.7 1.7 0 1 0 -3.4 0M631.19 269.21a1.7 1.7 0 1 0 3.4 0a1.7 1.7 0 1 0 -3.4 0M633.43 270.95a1.7 1.7 0 1 0 3.4 0a1.7 1.7 0 1 0 -3.4 0M635.67 271.74a1.7 1.7 0 1 0 3.4 0a1.7 1.7 0 1 0 -3.4 0M637.91 271.31a1.7 1.7 0 1 0 3.4 0a1.7 1.7 0 1 0 -3.4 0M640.15 273.08a1.7 1.7 0 1 0 3.4 0a1.7 1.7 0 1 0 -3.4 0M642.39 272.53a1.7 1.7 0 1 0 3.4 0a1.7 1.7 0 1 0 -3.4 0M644.63 274.55a1.7 1.7 0 1 0 3.4 0a1.7 1.7 0 1 0 -3.4 0M646.88 274.19a1.7 1.7 0 1 0 3.4 0a1.7 1.7 0 1 0 -3.4 0M649.12 274.38a1.7 1.7 0 1 0 3.4 0a1.7 1.7 0 1 0 -3.4 0M651.36 274.05a1.7 1.7 0 1 0 3.4 0a1.7 1.7 0 1 0 -3.4 0M653.6 274.66a1.7 1.7 0 1 0 3.4 0a1.7 1.7 0 1 0 -3.4 0M655.84 273.33a1.7 1.7 0 1 0 3.4 0a1.7 1.7 0 1 0 -3.4 0M658.08 274.22a1.7 1.7 0 1 0 3.4 0a1.7 1.7 0 1 0 -3.4 0M660.32 275.58a1.7 1.7 0 1 0 3.4 0a1.7 1.7 0 1 0 -3.4 0M662.56 273.78a1.7 1.7 0 1 0 3.4 0a1.7 1.7 0 1 0 -3.4 0M664.8 276.26a1.7 1.7 0 1 0 3.4 0a1.7 1.7 0 1 0 -3.4 0M667.04 274.4a1.7 1.7 0 1 0 3.4 0a1.7 1.7 0 1 0 -3.4 0M669.29 276.45a1.7 1.7 0 1 0 3.4 0a1.7 1.7 0 1 0 -3.4 0M671.53 275.37a1.7 1.7 0 1 0 3.4 0a1.7 1.7 0 1 0 -3.4 0M673.77 276.69a1.7 1.7 0 1 0 3.4 0a1.7 1.7 0 1 0 -3.4 0M676.01 276.31a1.7 1.7 0 1 0 3.4 0a1.7 1.7 0 1 0 -3.4 0" fill="#000"/>
<path d="M381.9 278.27V280.03M380.05 278.27h3.7M380.05 280.03h3.7M384.14 278.04V279.8M382.29 278.04h3.7M382.29 279.8h3.7M386.38 278.51V280.27M384.53 278.51h3.7M384.53 280.27h3.7M388.62 278.62V280.38M386.77 278.62h3.7M386.77 280.38h3.7M390.86 278.62V280.38M389.01 278.62h3.7M389.01 280.38h3.7M393.1 278.62V280.38M391.25 278.62h3.7M391.25 280.38h3.7M395.34 278.35V280.11M393.49 278.35h3.7M393.49 280.11h3.7M397.58 278.23V280M395.73 278.23h3.7M395.73 280h3.7M399.82 278.62V280.38M397.97 278.62h3.7M397.97 280.38h3.7M402.07 278.61V280.39M400.22 278.61h3.7M400.22 280.39h3.7M404.31 278.61V280.39M402.46 278.61h3.7M402.46 280.39h3.7M406.55 277.94V279.72M404.7 277.94h3.7M404.7 279.72h3.7M408.79 278.03V279.82M406.94 278.03h3.7M406.94 279.82h3.7M411.03 278.61V280.39M409.18 278.61h3.7M409.18 280.39h3.7M413.27 277.99V279.86M411.42 277.99h3.7M411.42 279.86h3.7M415.51 276.59V278.53M413.66 276.59h3.7M413.66 278.53h3.7M417.75 277.39V279.33M415.9 277.39h3.7M415.9 279.33h3.7M419.99 277.37V279.23M418.14 277.37h3.7M418.14 279.23h3.7M422.23 277.22V279.15M420.38 277.22h3.7M420.38 279.15h3.7M424.48 276.14V278.23M422.63 276.14h3.7M422.63 278.23h3.7M426.72 275.8V277.92M424.87 275.8h3.7M424.87 277.92h3.7M428.96 276.58V278.69M427.11 276.58h3.7M427.11 278.69h3.7M431.2 276.71V278.75M429.35 276.71h3.7M429.35 278.75h3.7M433.44 274.28V276.63M431.59 274.28h3.7M431.59 276.63h3.7M435.68 275.83V278.04M433.83 275.83h3.7M433.83 278.04h3.7M437.92 276.51V278.65M436.07 276.51h3.7M436.07 278.65h3.7M440.16 274.64V276.85M438.31 274.64h3.7M438.31 276.85h3.7M442.4 273.22V275.76M440.55 273.22h3.7M440.55 275.76h3.7M444.64 271.31V274.06M442.79 271.31h3.7M442.79 274.06h3.7M446.89 271.55V274.34M445.04 271.55h3.7M445.04 274.34h3.7M449.13 272.5V275.04M447.28 272.5h3.7M447.28 275.04h3.7M451.37 275.58V277.79M449.52 275.58h3.7M449.52 277.79h3.7M453.61 276.35V278.44M451.76 276.35h3.7M451.76 278.44h3.7M455.85 276.7V278.72M454 276.7h3.7M454 278.72h3.7M458.09 276.62V278.6M456.24 276.62h3.7M456.24 278.6h3.7M460.33 277.02V278.99M458.48 277.02h3.7M458.48 278.99h3.7M462.57 276.6V278.58M460.72 276.6h3.7M460.72 278.58h3.7M464.81 276.26V278.27M462.96 276.26h3.7M462.96 278.27h3.7M467.05 276.07V278.23M465.2 276.07h3.7M465.2 278.23h3.7M469.3 272.17V274.78M467.45 272.17h3.7M467.45 274.78h3.7M471.54 272.27V275.1M469.69 272.27h3.7M469.69 275.1h3.7M473.78 272.62V275.34M471.93 272.62h3.7M471.93 275.34h3.7M476.02 258.46V262.88M474.17 258.46h3.7M474.17 262.88h3.7M478.26 240.23V247.75M476.41 240.23h3.7M476.41 247.75h3.7M480.5 213.52V224.48M478.65 213.52h3.7M478.65 224.48h3.7M482.74 172.95V190.38M480.89 172.95h3.7M480.89 190.38h3.7M484.98 137.13V159.89M483.13 137.13h3.7M483.13 159.89h3.7M487.22 99.83V126.14M485.37 99.83h3.7M485.37 126.14h3.7M489.46 92.78V121.82M487.61 92.78h3.7M487.61 121.82h3.7M491.71 82.74V113.23M489.86 82.74h3.7M489.86 113.23h3.7M493.95 84.51V116.15M492.1 84.51h3.7M492.1 116.15h3.7M496.19 58.63V91.54M494.34 58.63h3.7M494.34 91.54h3.7M498.43 65.19V99.51M496.58 65.19h3.7M496.58 99.51h3.7M500.67 44.91V79.87M498.82 44.91h3.7M498.82 79.87h3.7M502.91 52.02V86.92M501.06 52.02h3.7M501.06 86.92h3.7M505.15 56.75V90.34M503.3 56.75h3.7M503.3 90.34h3.7M507.39 87.42V119.21M505.54 87.42h3.7M505.54 119.21h3.7M509.63 92.57V122.52M507.78 92.57h3.7M507.78 122.52h3.7M511.87 127.31V153.88M510.02 127.31h3.7M510.02 153.88h3.7M514.12 148.36V169.93M512.27 148.36h3.7M512.27 169.93h3.7M516.36 175.25V192.88M514.51 175.25h3.7M514.51 192.88h3.7M518.6 192.92V207.84M516.75 192.92h3.7M516.75 207.84h3.7M520.84 201.99V214.81M518.99 201.99h3.7M518.99 214.81h3.7M523.08 227.2V236.56M521.23 227.2h3.7M521.23 236.56h3.7M525.32 247.75V254.42M523.47 247.75h3.7M523.47 254.42h3.7M527.56 247.21V253.53M525.71 247.21h3.7M525.71 253.53h3.7M529.8 241.81V249.08M527.95 241.81h3.7M527.95 249.08h3.7M532.04 233.19V241.68M530.19 233.19h3.7M530.19 241.68h3.7M534.28 223.86V233.96M532.43 223.86h3.7M532.43 233.96h3.7M536.53 191.86V206.28M534.68 191.86h3.7M534.68 206.28h3.7M538.77 164.15V182.77M536.92 164.15h3.7M536.92 182.77h3.7M541.01 138.7V161.39M539.16 138.7h3.7M539.16 161.39h3.7M543.25 113.43V139.76M541.4 113.43h3.7M541.4 139.76h3.7M545.49 92.19V120.66M543.64 92.19h3.7M543.64 120.66h3.7M547.73 99.94V129.14M545.88 99.94h3.7M545.88 129.14h3.7M549.97 80.57V110.24M548.12 80.57h3.7M548.12 110.24h3.7M552.21 78.46V108.54M550.36 78.46h3.7M550.36 108.54h3.7M554.45 75.53V105.94M552.6 75.53h3.7M552.6 105.94h3.7M556.69 90.68V121.39M554.84 90.68h3.7M554.84 121.39h3.7M558.94 78.61V109.59M557.09 78.61h3.7M557.09 109.59h3.7M561.18 71.66V102.96M559.33 71.66h3.7M559.33 102.96h3.7M563.42 67.83V99.49M561.57 67.83h3.7M561.57 99.49h3.7M565.66 77.57V109.61M563.81 77.57h3.7M563.81 109.61h3.7M567.9 62.28V94.82M566.05 62.28h3.7M566.05 94.82h3.7M570.14 59.61V92.28M568.29 59.61h3.7M568.29 92.28h3.7M572.38 81.66V113.32M570.53 81.66h3.7M570.53 113.32h3.7M574.62 80.77V110.52M572.77 80.77h3.7M572.77 110.52h3.7M576.86 106.19V133.17M575.01 106.19h3.7M575.01 133.17h3.7M579.1 128.81V152.76M577.25 128.81h3.7M577.25 152.76h3.7M581.35 145.07V166.26M579.5 145.07h3.7M579.5 166.26h3.7M583.59 164.68V183.28M581.74 164.68h3.7M581.74 183.28h3.7M585.83 186.61V202.81M583.98 186.61h3.7M583.98 202.81h3.7M588.07 192.52V206.76M586.22 192.52h3.7M586.22 206.76h3.7M590.31 201.97V214.5M588.46 201.97h3.7M588.46 214.5h3.7M592.55 213.44V224.12M590.7 213.44h3.7M590.7 224.12h3.7M594.79 229.69V238.63M592.94 229.69h3.7M592.94 238.63h3.7M597.03 239.24V246.74M595.18 239.24h3.7M595.18 246.74h3.7M599.27 247.8V254.19M597.42 247.8h3.7M597.42 254.19h3.7M601.51 251.62V257.28M599.66 251.62h3.7M599.66 257.28h3.7M603.76 255.49V260.58M601.91 255.49h3.7M601.91 260.58h3.7M606 258.46V263.08M604.15 258.46h3.7M604.15 263.08h3.7M608.24 261.71V265.89M606.39 261.71h3.7M606.39 265.89h3.7M610.48 265.05V268.85M608.63 265.05h3.7M608.63 268.85h3.7M612.72 266.69V270.17M610.87 266.69h3.7M610.87 270.17h3.7M614.96 268.53V271.8M613.11 268.53h3.7M613.11 271.8h3.7M617.2 271.03V274.13M615.35 271.03h3.7M615.35 274.13h3.7M619.44 270.84V273.81M617.59 270.84h3.7M617.59 273.81h3.7M621.68 270.15V273M619.83 270.15h3.7M619.83 273h3.7M623.92 273.13V275.88M622.07 273.13h3.7M622.07 275.88h3.7M626.17 272.73V275.39M624.32 272.73h3.7M624.32 275.39h3.7M628.41 272.37V274.96M626.56 272.37h3.7M626.56 274.96h3.7M630.65 274V276.53M628.8 274h3.7M628.8 276.53h3.7M632.89 273.85V276.32M631.04 273.85h3.7M631.04 276.32h3.7M635.13 273.84V276.26M633.28 273.84h3.7M633.28 276.26h3.7M637.37 274.18V276.54M635.52 274.18h3.7M635.52 276.54h3.7M639.61 274.27V276.59M637.76 274.27h3.7M637.76 276.59h3.7M641.85 275.13V277.41M640 275.13h3.7M640 277.41h3.7M644.09 275.91V278.16M642.24 275.91h3.7M642.24 278.16h3.7M646.33 275.3V277.52M644.48 275.3h3.7M644.48 277.52h3.7M648.58 275.88V278.08M646.73 275.88h3.7M646.73 278.08h3.7M650.82 276.83V279M648.97 276.83h3.7M648.97 279h3.7M653.06 275.3V277.46M651.21 275.3h3.7M651.21 277.46h3.7M655.3 276.24V278.38M653.45 276.24h3.7M653.45 278.38h3.7M657.54 276.08V278.2M655.69 276.08h3.7M655.69 278.2h3.7M659.78 275.82V277.91M657.93 275.82h3.7M657.93 277.91h3.7M662.02 275.97V278.04M660.17 275.97h3.7M660.17 278.04h3.7M664.26 276.6V278.66M662.41 276.6h3.7M662.41 278.66h3.7M666.5 276.93V278.97M664.65 276.93h3.7M664.65 278.97h3.7M668.74 276.52V278.55M666.89 276.52h3.7M666.89 278.55h3.7M670.99 276.89V278.91M669.14 276.89h3.7M669.14 278.91h3.7M673.23 277.29V279.3M671.38 277.29h3.7M671.38 279.3h3.7M675.47 277.12V279.12M673.62 277.12h3.7M673.62 279.12h3.7M677.71 277.43V279.43M675.86 277.43h3.7M675.86 279.43h3.7" stroke="#a82a2a" stroke-width="1.35" fill="none"/>
<path d="M380.4 279.15a1.5 1.5 0 1 0 3 0a1.5 1.5 0 1 0 -3 0M382.64 278.92a1.5 1.5 0 1 0 3 0a1.5 1.5 0 1 0 -3 0M384.88 279.39a1.5 1.5 0 1 0 3 0a1.5 1.5 0 1 0 -3 0M387.12 279.5a1.5 1.5 0 1 0 3 0a1.5 1.5 0 1 0 -3 0M389.36 279.5a1.5 1.5 0 1 0 3 0a1.5 1.5 0 1 0 -3 0M391.6 279.5a1.5 1.5 0 1 0 3 0a1.5 1.5 0 1 0 -3 0M393.84 279.23a1.5 1.5 0 1 0 3 0a1.5 1.5 0 1 0 -3 0M396.08 279.12a1.5 1.5 0 1 0 3 0a1.5 1.5 0 1 0 -3 0M398.32 279.5a1.5 1.5 0 1 0 3 0a1.5 1.5 0 1 0 -3 0M400.57 279.5a1.5 1.5 0 1 0 3 0a1.5 1.5 0 1 0 -3 0M402.81 279.5a1.5 1.5 0 1 0 3 0a1.5 1.5 0 1 0 -3 0M405.05 278.83a1.5 1.5 0 1 0 3 0a1.5 1.5 0 1 0 -3 0M407.29 278.92a1.5 1.5 0 1 0 3 0a1.5 1.5 0 1 0 -3 0M409.53 279.5a1.5 1.5 0 1 0 3 0a1.5 1.5 0 1 0 -3 0M411.77 278.93a1.5 1.5 0 1 0 3 0a1.5 1.5 0 1 0 -3 0M414.01 277.56a1.5 1.5 0 1 0 3 0a1.5 1.5 0 1 0 -3 0M416.25 278.36a1.5 1.5 0 1 0 3 0a1.5 1.5 0 1 0 -3 0M418.49 278.3a1.5 1.5 0 1 0 3 0a1.5 1.5 0 1 0 -3 0M420.73 278.19a1.5 1.5 0 1 0 3 0a1.5 1.5 0 1 0 -3 0M422.98 277.18a1.5 1.5 0 1 0 3 0a1.5 1.5 0 1 0 -3 0M425.22 276.86a1.5 1.5 0 1 0 3 0a1.5 1.5 0 1 0 -3 0M427.46 277.64a1.5 1.5 0 1 0 3 0a1.5 1.5 0 1 0 -3 0M429.7 277.73a1.5 1.5 0 1 0 3 0a1.5 1.5 0 1 0 -3 0M431.94 275.46a1.5 1.5 0 1 0 3 0a1.5 1.5 0 1 0 -3 0M434.18 276.93a1.5 1.5 0 1 0 3 0a1.5 1.5 0 1 0 -3 0M436.42 277.58a1.5 1.5 0 1 0 3 0a1.5 1.5 0 1 0 -3 0M438.66 275.75a1.5 1.5 0 1 0 3 0a1.5 1.5 0 1 0 -3 0M440.9 274.49a1.5 1.5 0 1 0 3 0a1.5 1.5 0 1 0 -3 0M443.14 272.68a1.5 1.5 0 1 0 3 0a1.5 1.5 0 1 0 -3 0M445.39 272.94a1.5 1.5 0 1 0 3 0a1.5 1.5 0 1 0 -3 0M447.63 273.77a1.5 1.5 0 1 0 3 0a1.5 1.5 0 1 0 -3 0M449.87 276.69a1.5 1.5 0 1 0 3 0a1.5 1.5 0 1 0 -3 0M452.11 277.4a1.5 1.5 0 1 0 3 0a1.5 1.5 0 1 0 -3 0M454.35 277.71a1.5 1.5 0 1 0 3 0a1.5 1.5 0 1 0 -3 0M456.59 277.61a1.5 1.5 0 1 0 3 0a1.5 1.5 0 1 0 -3 0M458.83 278a1.5 1.5 0 1 0 3 0a1.5 1.5 0 1 0 -3 0M461.07 277.59a1.5 1.5 0 1 0 3 0a1.5 1.5 0 1 0 -3 0M463.31 277.27a1.5 1.5 0 1 0 3 0a1.5 1.5 0 1 0 -3 0M465.55 277.15a1.5 1.5 0 1 0 3 0a1.5 1.5 0 1 0 -3 0M467.8 273.47a1.5 1.5 0 1 0 3 0a1.5 1.5 0 1 0 -3 0M470.04 273.68a1.5 1.5 0 1 0 3 0a1.5 1.5 0 1 0 -3 0M472.28 273.98a1.5 1.5 0 1 0 3 0a1.5 1.5 0 1 0 -3 0M474.52 260.67a1.5 1.5 0 1 0 3 0a1.5 1.5 0 1 0 -3 0M476.76 243.99a1.5 1.5 0 1 0 3 0a1.5 1.5 0 1 0 -3 0M479 219a1.5 1.5 0 1 0 3 0a1.5 1.5 0 1 0 -3 0M481.24 181.67a1.5 1.5 0 1 0 3 0a1.5 1.5 0 1 0 -3 0M483.48 148.51a1.5 1.5 0 1 0 3 0a1.5 1.5 0 1 0 -3 0M485.72 112.98a1.5 1.5 0 1 0 3 0a1.5 1.5 0 1 0 -3 0M487.96 107.3a1.5 1.5 0 1 0 3 0a1.5 1.5 0 1 0 -3 0M490.21 97.99a1.5 1.5 0 1 0 3 0a1.5 1.5 0 1 0 -3 0M492.45 100.33a1.5 1.5 0 1 0 3 0a1.5 1.5 0 1 0 -3 0M494.69 75.09a1.5 1.5 0 1 0 3 0a1.5 1.5 0 1 0 -3 0M496.93 82.35a1.5 1.5 0 1 0 3 0a1.5 1.5 0 1 0 -3 0M499.17 62.39a1.5 1.5 0 1 0 3 0a1.5 1.5 0 1 0 -3 0M501.41 69.47a1.5 1.5 0 1 0 3 0a1.5 1.5 0 1 0 -3 0M503.65 73.55a1.5 1.5 0 1 0 3 0a1.5 1.5 0 1 0 -3 0M505.89 103.31a1.5 1.5 0 1 0 3 0a1.5 1.5 0 1 0 -3 0M508.13 107.55a1.5 1.5 0 1 0 3 0a1.5 1.5 0 1 0 -3 0M510.37 140.6a1.5 1.5 0 1 0 3 0a1.5 1.5 0 1 0 -3 0M512.62 159.14a1.5 1.5 0 1 0 3 0a1.5 1.5 0 1 0 -3 0M514.86 184.07a1.5 1.5 0 1 0 3 0a1.5 1.5 0 1 0 -3 0M517.1 200.38a1.5 1.5 0 1 0 3 0a1.5 1.5 0 1 0 -3 0M519.34 208.4a1.5 1.5 0 1 0 3 0a1.5 1.5 0 1 0 -3 0M521.58 231.88a1.5 1.5 0 1 0 3 0a1.5 1.5 0 1 0 -3 0M523.82 251.09a1.5 1.5 0 1 0 3 0a1.5 1.5 0 1 0 -3 0M526.06 250.37a1.5 1.5 0 1 0 3 0a1.5 1.5 0 1 0 -3 0M528.3 245.44a1.5 1.5 0 1 0 3 0a1.5 1.5 0 1 0 -3 0M530.54 237.43a1.5 1.5 0 1 0 3 0a1.5 1.5 0 1 0 -3 0M532.78 228.91a1.5 1.5 0 1 0 3 0a1.5 1.5 0 1 0 -3 0M535.03 199.07a1.5 1.5 0 1 0 3 0a1.5 1.5 0 1 0 -3 0M537.27 173.46a1.5 1.5 0 1 0 3 0a1.5 1.5 0 1 0 -3 0M539.51 150.04a1.5 1.5 0 1 0 3 0a1.5 1.5 0 1 0 -3 0M541.75 126.6a1.5 1.5 0 1 0 3 0a1.5 1.5 0 1 0 -3 0M543.99 106.42a1.5 1.5 0 1 0 3 0a1.5 1.5 0 1 0 -3 0M546.23 114.54a1.5 1.5 0 1 0 3 0a1.5 1.5 0 1 0 -3 0M548.47 95.4a1.5 1.5 0 1 0 3 0a1.5 1.5 0 1 0 -3 0M550.71 93.5a1.5 1.5 0 1 0 3 0a1.5 1.5 0 1 0 -3 0M552.95 90.74a1.5 1.5 0 1 0 3 0a1.5 1.5 0 1 0 -3 0M555.19 106.03a1.5 1.5 0 1 0 3 0a1.5 1.5 0 1 0 -3 0M557.44 94.1a1.5 1.5 0 1 0 3 0a1.5 1.5 0 1 0 -3 0M559.68 87.31a1.5 1.5 0 1 0 3 0a1.5 1.5 0 1 0 -3 0M561.92 83.66a1.5 1.5 0 1 0 3 0a1.5 1.5 0 1 0 -3 0M564.16 93.59a1.5 1.5 0 1 0 3 0a1.5 1.5 0 1 0 -3 0M566.4 78.55a1.5 1.5 0 1 0 3 0a1.5 1.5 0 1 0 -3 0M568.64 75.94a1.5 1.5 0 1 0 3 0a1.5 1.5 0 1 0 -3 0M570.88 97.49a1.5 1.5 0 1 0 3 0a1.5 1.5 0 1 0 -3 0M573.12 95.64a1.5 1.5 0 1 0 3 0a1.5 1.5 0 1 0 -3 0M575.36 119.68a1.5 1.5 0 1 0 3 0a1.5 1.5 0 1 0 -3 0M577.6 140.79a1.5 1.5 0 1 0 3 0a1.5 1.5 0 1 0 -3 0M579.85 155.66a1.5 1.5 0 1 0 3 0a1.5 1.5 0 1 0 -3 0M582.09 173.98a1.5 1.5 0 1 0 3 0a1.5 1.5 0 1 0 -3 0M584.33 194.71a1.5 1.5 0 1 0 3 0a1.5 1.5 0 1 0 -3 0M586.57 199.64a1.5 1.5 0 1 0 3 0a1.5 1.5 0 1 0 -3 0M588.81 208.24a1.5 1.5 0 1 0 3 0a1.5 1.5 0 1 0 -3 0M591.05 218.78a1.5 1.5 0 1 0 3 0a1.5 1.5 0 1 0 -3 0M593.29 234.16a1.5 1.5 0 1 0 3 0a1.5 1.5 0 1 0 -3 0M595.53 242.99a1.5 1.5 0 1 0 3 0a1.5 1.5 0 1 0 -3 0M597.77 250.99a1.5 1.5 0 1 0 3 0a1.5 1.5 0 1 0 -3 0M600.01 254.45a1.5 1.5 0 1 0 3 0a1.5 1.5 0 1 0 -3 0M602.26 258.03a1.5 1.5 0 1 0 3 0a1.5 1.5 0 1 0 -3 0M604.5 260.77a1.5 1.5 0 1 0 3 0a1.5 1.5 0 1 0 -3 0M606.74 263.8a1.5 1.5 0 1 0 3 0a1.5 1.5 0 1 0 -3 0M608.98 266.95a1.5 1.5 0 1 0 3 0a1.5 1.5 0 1 0 -3 0M611.22 268.43a1.5 1.5 0 1 0 3 0a1.5 1.5 0 1 0 -3 0M613.46 270.17a1.5 1.5 0 1 0 3 0a1.5 1.5 0 1 0 -3 0M615.7 272.58a1.5 1.5 0 1 0 3 0a1.5 1.5 0 1 0 -3 0M617.94 272.32a1.5 1.5 0 1 0 3 0a1.5 1.5 0 1 0 -3 0M620.18 271.57a1.5 1.5 0 1 0 3 0a1.5 1.5 0 1 0 -3 0M622.42 274.5a1.5 1.5 0 1 0 3 0a1.5 1.5 0 1 0 -3 0M624.67 274.06a1.5 1.5 0 1 0 3 0a1.5 1.5 0 1 0 -3 0M626.91 273.67a1.5 1.5 0 1 0 3 0a1.5 1.5 0 1 0 -3 0M629.15 275.27a1.5 1.5 0 1 0 3 0a1.5 1.5 0 1 0 -3 0M631.39 275.08a1.5 1.5 0 1 0 3 0a1.5 1.5 0 1 0 -3 0M633.63 275.05a1.5 1.5 0 1 0 3 0a1.5 1.5 0 1 0 -3 0M635.87 275.36a1.5 1.5 0 1 0 3 0a1.5 1.5 0 1 0 -3 0M638.11 275.43a1.5 1.5 0 1 0 3 0a1.5 1.5 0 1 0 -3 0M640.35 276.27a1.5 1.5 0 1 0 3 0a1.5 1.5 0 1 0 -3 0M642.59 277.03a1.5 1.5 0 1 0 3 0a1.5 1.5 0 1 0 -3 0M644.83 276.41a1.5 1.5 0 1 0 3 0a1.5 1.5 0 1 0 -3 0M647.08 276.98a1.5 1.5 0 1 0 3 0a1.5 1.5 0 1 0 -3 0M649.32 277.91a1.5 1.5 0 1 0 3 0a1.5 1.5 0 1 0 -3 0M651.56 276.38a1.5 1.5 0 1 0 3 0a1.5 1.5 0 1 0 -3 0M653.8 277.31a1.5 1.5 0 1 0 3 0a1.5 1.5 0 1 0 -3 0M656.04 277.14a1.5 1.5 0 1 0 3 0a1.5 1.5 0 1 0 -3 0M658.28 276.87a1.5 1.5 0 1 0 3 0a1.5 1.5 0 1 0 -3 0M660.52 277a1.5 1.5 0 1 0 3 0a1.5 1.5 0 1 0 -3 0M662.76 277.63a1.5 1.5 0 1 0 3 0a1.5 1.5 0 1 0 -3 0M665 277.95a1.5 1.5 0 1 0 3 0a1.5 1.5 0 1 0 -3 0M667.24 277.54a1.5 1.5 0 1 0 3 0a1.5 1.5 0 1 0 -3 0M669.49 277.9a1.5 1.5 0 1 0 3 0a1.5 1.5 0 1 0 -3 0M671.73 278.29a1.5 1.5 0 1 0 3 0a1.5 1.5 0 1 0 -3 0M673.97 278.12a1.5 1.5 0 1 0 3 0a1.5 1.5 0 1 0 -3 0M676.21 278.43a1.5 1.5 0 1 0 3 0a1.5 1.5 0 1 0 -3 0" fill="#a82a2a"/>
</g>
<rect x="22.5" y="27.6" width="298.9" height="252.9" fill="none" stroke="#000" stroke-width="1.0"/>
<path d="M22.5 280.5v3.5M28.48 280.5v2M34.46 280.5v2M40.43 280.5v2M46.41 280.5v2M52.39 280.5v2M58.37 280.5v2M64.35 280.5v2M70.32 280.5v2M76.3 280.5v2M82.28 280.5v3.5M88.26 280.5v2M94.24 280.5v2M100.21 280.5v2M106.19 280.5v2M112.17 280.5v2M118.15 280.5v2M124.13 280.5v2M130.1 280.5v2M136.08 280.5v2M142.06 280.5v3.5M148.04 280.5v2M154.02 280.5v2M159.99 280.5v2M165.97 280.5v2M171.95 280.5v2M177.93 280.5v2M183.91 280.5v2M189.88 280.5v2M195.86 280.5v2M201.84 280.5v3.5M207.82 280.5v2M213.8 280.5v2M219.77 280.5v2M225.75 280.5v2M231.73 280.5v2M237.71 280.5v2M243.69 280.5v2M249.66 280.5v2M255.64 280.5v2M261.62 280.5v3.5M267.6 280.5v2M273.58 280.5v2M279.55 280.5v2M285.53 280.5v2M291.51 280.5v2M297.49 280.5v2M303.47 280.5v2M309.44 280.5v2M315.42 280.5v2M321.4 280.5v3.5M22.5 280.5h-3.5M22.5 248.9h-3.5M22.5 217.3h-3.5M22.5 185.7h-3.5M22.5 154.1h-3.5M22.5 122.5h-3.5M22.5 90.9h-3.5M22.5 59.3h-3.5M22.5 27.7h-3.5M30.42 27.6v-3.5M54.18 27.6v-3.5M93.79 27.6v-3.5M149.23 27.6v-3.5M220.52 27.6v-3.5" stroke="#000" stroke-width="1.0" fill="none"/>
<text x="22.5" y="294.1" font-size="10.0" text-anchor="middle" font-family="Liberation Sans, sans-serif">0</text>
<text x="82.28" y="294.1" font-size="10.0" text-anchor="middle" font-family="Liberation Sans, sans-serif">2</text>
<text x="142.06" y="294.1" font-size="10.0" text-anchor="middle" font-family="Liberation Sans, sans-serif">4</text>
<text x="201.84" y="294.1" font-size="10.0" text-anchor="middle" font-family="Liberation Sans, sans-serif">6</text>
<text x="261.62" y="294.1" font-size="10.0" text-anchor="middle" font-family="Liberation Sans, sans-serif">8</text>
<text x="321.4" y="294.1" font-size="10.0" text-anchor="middle" font-family="Liberation Sans, sans-serif">10</text>
<text x="30.42" y="19.5" font-size="10.0" text-anchor="middle" font-family="Liberation Sans, sans-serif">1</text>
<text x="54.18" y="19.5" font-size="10.0" text-anchor="middle" font-family="Liberation Sans, sans-serif">2</text>
<text x="93.79" y="19.5" font-size="10.0" text-anchor="middle" font-family="Liberation Sans, sans-serif">3</text>
<text x="149.23" y="19.5" font-size="10.0" text-anchor="middle" font-family="Liberation Sans, sans-serif">4</text>
<text x="220.52" y="19.5" font-size="10.0" text-anchor="middle" font-family="Liberation Sans, sans-serif">5</text>
<rect x="381" y="27.6" width="298.8" height="252.9" fill="none" stroke="#000" stroke-width="1.0"/>
<path d="M381 280.5v3.5M386.98 280.5v2M392.95 280.5v2M398.93 280.5v2M404.9 280.5v2M410.88 280.5v2M416.86 280.5v2M422.83 280.5v2M428.81 280.5v2M434.78 280.5v2M440.76 280.5v3.5M446.74 280.5v2M452.71 280.5v2M458.69 280.5v2M464.66 280.5v2M470.64 280.5v2M476.62 280.5v2M482.59 280.5v2M488.57 280.5v2M494.54 280.5v2M500.52 280.5v3.5M506.5 280.5v2M512.47 280.5v2M518.45 280.5v2M524.42 280.5v2M530.4 280.5v2M536.38 280.5v2M542.35 280.5v2M548.33 280.5v2M554.3 280.5v2M560.28 280.5v3.5M566.26 280.5v2M572.23 280.5v2M578.21 280.5v2M584.18 280.5v2M590.16 280.5v2M596.14 280.5v2M602.11 280.5v2M608.09 280.5v2M614.06 280.5v2M620.04 280.5v3.5M626.02 280.5v2M631.99 280.5v2M637.97 280.5v2M643.94 280.5v2M649.92 280.5v2M655.9 280.5v2M661.87 280.5v2M667.85 280.5v2M673.82 280.5v2M679.8 280.5v3.5M381 280.5h-3.5M381 250.72h-3.5M381 220.94h-3.5M381 191.16h-3.5M381 161.38h-3.5M381 131.6h-3.5M381 101.82h-3.5M381 72.04h-3.5M381 42.26h-3.5M388.92 27.6v-3.5M412.67 27.6v-3.5M452.26 27.6v-3.5M507.69 27.6v-3.5M578.95 27.6v-3.5" stroke="#000" stroke-width="1.0" fill="none"/>
<text x="381" y="294.1" font-size="10.0" text-anchor="middle" font-family="Liberation Sans, sans-serif">0</text>
<text x="440.76" y="294.1" font-size="10.0" text-anchor="middle" font-family="Liberation Sans, sans-serif">2</text>
<text x="500.52" y="294.1" font-size="10.0" text-anchor="middle" font-family="Liberation Sans, sans-serif">4</text>
<text x="560.28" y="294.1" font-size="10.0" text-anchor="middle" font-family="Liberation Sans, sans-serif">6</text>
<text x="620.04" y="294.1" font-size="10.0" text-anchor="middle" font-family="Liberation Sans, sans-serif">8</text>
<text x="679.8" y="294.1" font-size="10.0" text-anchor="middle" font-family="Liberation Sans, sans-serif">10</text>
<text x="388.92" y="19.5" font-size="10.0" text-anchor="middle" font-family="Liberation Sans, sans-serif">1</text>
<text x="412.67" y="19.5" font-size="10.0" text-anchor="middle" font-family="Liberation Sans, sans-serif">2</text>
<text x="452.26" y="19.5" font-size="10.0" text-anchor="middle" font-family="Liberation Sans, sans-serif">3</text>
<text x="507.69" y="19.5" font-size="10.0" text-anchor="middle" font-family="Liberation Sans, sans-serif">4</text>
<text x="578.95" y="19.5" font-size="10.0" text-anchor="middle" font-family="Liberation Sans, sans-serif">5</text>
</svg></body></html>
